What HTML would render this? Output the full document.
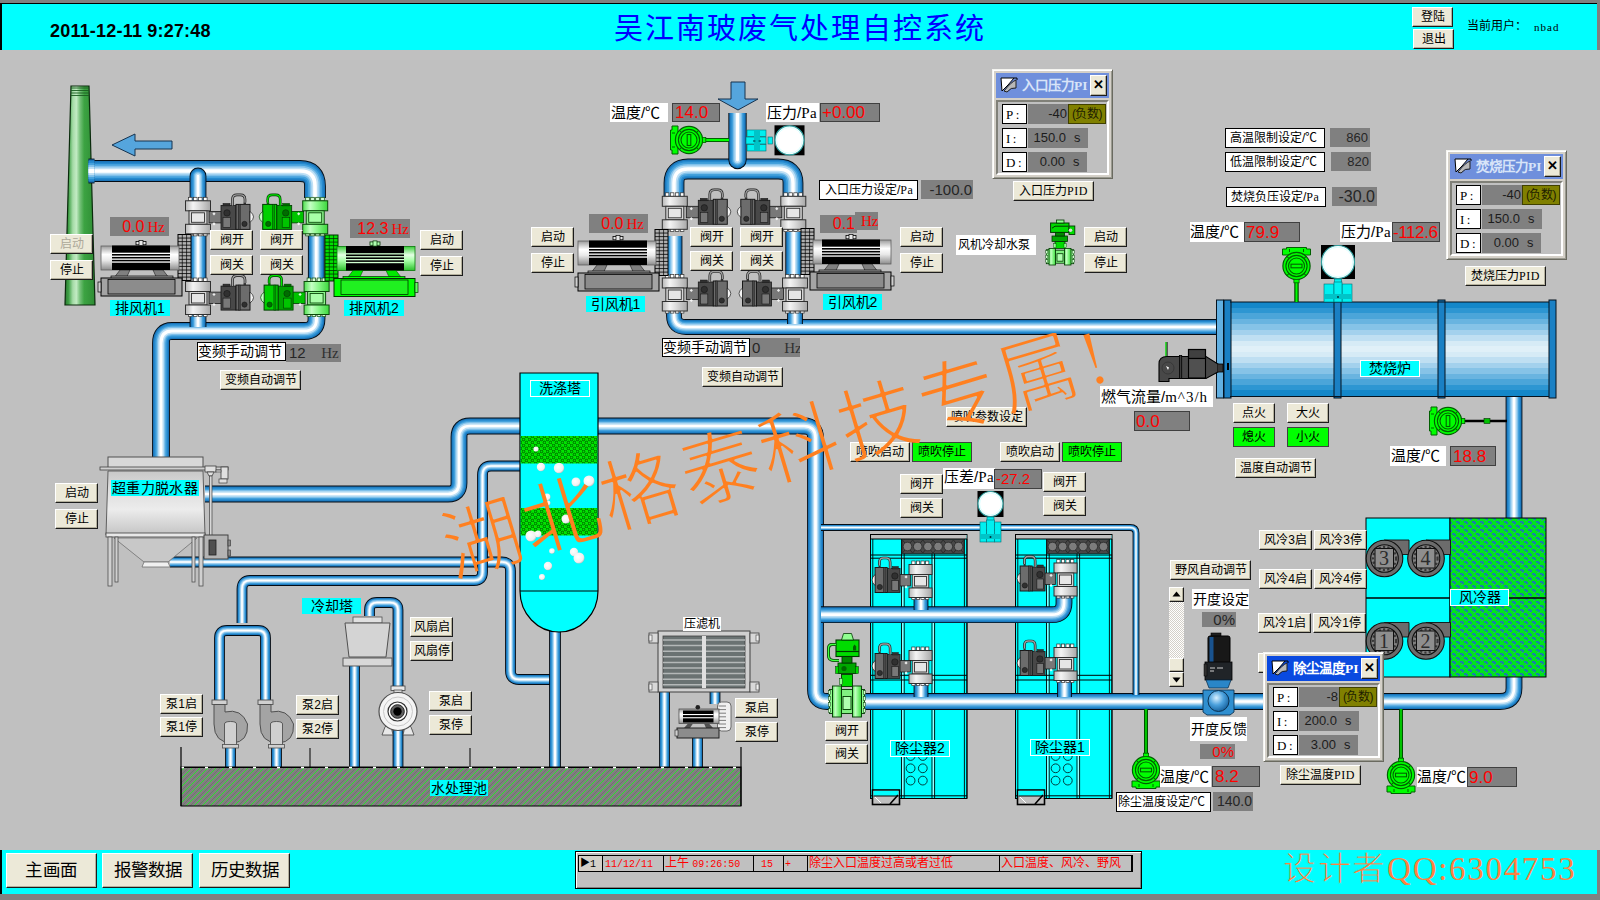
<!DOCTYPE html>
<html lang="zh-CN"><head><meta charset="utf-8"><title>SCADA</title>
<style>
html,body{margin:0;padding:0;}
body{width:1600px;height:900px;overflow:hidden;background:#c0c0c0;position:relative;font-family:"Liberation Sans", sans-serif;}
#g{position:absolute;left:0;top:0;}
.b{position:absolute;box-sizing:border-box;background:#ece9d8;border:1px solid;border-color:#fff #1c1c1c #1c1c1c #fff;box-shadow:inset -1px -1px 0 #b4b09c;text-align:center;color:#000;white-space:nowrap;overflow:hidden;}
.b.g{background:#00ff00;border-color:#404040 #404040 #404040 #404040;box-shadow:none;}
.b.dis{color:#aca899;}
.l{position:absolute;box-sizing:border-box;white-space:nowrap;overflow:hidden;color:#000;}
.w{background:#fff;}
.wb{background:#fff;border:1px solid #000;}
.c{background:#00ffff;text-align:center;}
.cb{background:#00ffff;border:1px solid #fff;text-align:center;}
.v{background:#808080;color:#262626;}
.vb{background:#808080;border:1px solid #404040;color:#f00;}
.r{color:#f00;}
.ra{text-align:right;}
.ca{text-align:center;}
.ol{background:#808000;border:1px solid #404000;color:#202000;text-align:center;}
.pid{position:absolute;box-sizing:border-box;background:#d4d0c8;border:1px solid;border-color:#f4f4f0 #6a6a60 #6a6a60 #f4f4f0;box-shadow:inset 1px 1px 0 #fff, inset -1px -1px 0 #9a9a90;}
.pid .tb{position:absolute;left:3px;top:3px;right:3px;height:25px;color:#fff;font-weight:bold;font-size:14px;line-height:25px;white-space:nowrap;overflow:hidden;font-family:"Liberation Serif", serif;}
.pid .in{position:absolute;left:3px;right:3px;top:30px;bottom:3px;box-sizing:border-box;border:2px solid;border-color:#808078 #fff #fff #808078;background:#c0c0c0;}
.mono{font-family:"Liberation Mono", monospace;}
.hz{font-family:"Liberation Serif", serif;font-size:15px;margin-left:3px;}
.sf{font-family:"Liberation Serif", serif;letter-spacing:0.5px;}
</style></head><body>
<svg id="g" width="1600" height="900" viewBox="0 0 1600 900">
<defs>

<linearGradient id="chim" x1="0" x2="1" y1="0" y2="0">
 <stop offset="0" stop-color="#2a7a30"/><stop offset="0.12" stop-color="#3fa046"/><stop offset="0.26" stop-color="#a4dba6"/><stop offset="0.38" stop-color="#c2ebc3"/><stop offset="0.5" stop-color="#74c078"/><stop offset="0.64" stop-color="#3ca342"/><stop offset="1" stop-color="#2e8c34"/>
</linearGradient>
<linearGradient id="furn" x1="0" x2="0" y1="0" y2="1"><stop offset="0.0000" stop-color="#1487c9"/><stop offset="0.0588" stop-color="#1487c9"/><stop offset="0.0588" stop-color="#2d96d2"/><stop offset="0.1176" stop-color="#2d96d2"/><stop offset="0.1176" stop-color="#4ba5d9"/><stop offset="0.1765" stop-color="#4ba5d9"/><stop offset="0.1765" stop-color="#69b4e0"/><stop offset="0.2353" stop-color="#69b4e0"/><stop offset="0.2353" stop-color="#86c3e7"/><stop offset="0.2941" stop-color="#86c3e7"/><stop offset="0.2941" stop-color="#a3d1ed"/><stop offset="0.3529" stop-color="#a3d1ed"/><stop offset="0.3529" stop-color="#bfdff2"/><stop offset="0.4118" stop-color="#bfdff2"/><stop offset="0.4118" stop-color="#d6ebf6"/><stop offset="0.4706" stop-color="#d6ebf6"/><stop offset="0.4706" stop-color="#e0f0f8"/><stop offset="0.5294" stop-color="#e0f0f8"/><stop offset="0.5294" stop-color="#d6ebf6"/><stop offset="0.5882" stop-color="#d6ebf6"/><stop offset="0.5882" stop-color="#bfdff2"/><stop offset="0.6471" stop-color="#bfdff2"/><stop offset="0.6471" stop-color="#a3d1ed"/><stop offset="0.7059" stop-color="#a3d1ed"/><stop offset="0.7059" stop-color="#86c3e7"/><stop offset="0.7647" stop-color="#86c3e7"/><stop offset="0.7647" stop-color="#69b4e0"/><stop offset="0.8235" stop-color="#69b4e0"/><stop offset="0.8235" stop-color="#4ba5d9"/><stop offset="0.8824" stop-color="#4ba5d9"/><stop offset="0.8824" stop-color="#2d96d2"/><stop offset="0.9412" stop-color="#2d96d2"/><stop offset="0.9412" stop-color="#1487c9"/><stop offset="1.0000" stop-color="#1487c9"/></linearGradient>
<linearGradient id="silv" x1="0" x2="0" y1="0" y2="1">
 <stop offset="0" stop-color="#9a9a9a"/><stop offset="0.35" stop-color="#ffffff"/><stop offset="0.6" stop-color="#e8e8e8"/><stop offset="1" stop-color="#8c8c8c"/>
</linearGradient>
<linearGradient id="silvg" x1="0" x2="0" y1="0" y2="1">
 <stop offset="0" stop-color="#38cc38"/><stop offset="0.35" stop-color="#e4ffe4"/><stop offset="0.6" stop-color="#a4ffa4"/><stop offset="1" stop-color="#2cc02c"/>
</linearGradient>
<linearGradient id="flg" x1="0" x2="1" y1="0" y2="0">
 <stop offset="0" stop-color="#b8b8b8"/><stop offset="0.3" stop-color="#f4f4f4"/><stop offset="0.55" stop-color="#dcdcdc"/><stop offset="1" stop-color="#a8a8a8"/>
</linearGradient>
<linearGradient id="flgg" x1="0" x2="1" y1="0" y2="0">
 <stop offset="0" stop-color="#4fe04f"/><stop offset="0.3" stop-color="#c4ffc4"/><stop offset="0.55" stop-color="#90f890"/><stop offset="1" stop-color="#3cd83c"/>
</linearGradient>
<linearGradient id="dew" x1="0" x2="0" y1="0" y2="1">
 <stop offset="0" stop-color="#c8c8c8"/><stop offset="0.3" stop-color="#dedede"/><stop offset="0.6" stop-color="#ececec"/><stop offset="1" stop-color="#c4c4c4"/>
</linearGradient>
<radialGradient id="bub" cx="0.4" cy="0.4" r="0.7"><stop offset="0" stop-color="#fff"/><stop offset="0.7" stop-color="#f0f0f0"/><stop offset="1" stop-color="#a0a8a8"/></radialGradient>
<radialGradient id="ball" cx="0.4" cy="0.35" r="0.7"><stop offset="0" stop-color="#d8f0ff"/><stop offset="0.5" stop-color="#4aa0dc"/><stop offset="1" stop-color="#125c98"/></radialGradient>
<pattern id="gmesh" width="6" height="6" patternUnits="userSpaceOnUse"><rect width="6" height="6" fill="#00e400"/><circle cx="1.5" cy="1.5" r="1.3" fill="none" stroke="#004000" stroke-width="0.75"/><circle cx="4.5" cy="4.5" r="1.3" fill="none" stroke="#004000" stroke-width="0.75"/></pattern>
<pattern id="dmesh" x="2" y="539.5" width="10.2" height="14" patternUnits="userSpaceOnUse"><rect width="10.2" height="14" fill="#4a4a4a"/><path d="M0,0L10.2,14M10.2,0L0,14" stroke="#2a2a2a" stroke-width="1"/><circle cx="5.1" cy="7" r="4.3" fill="#808080" stroke="#303030" stroke-width="0.8"/></pattern>
<pattern id="cool" width="8" height="8" patternUnits="userSpaceOnUse"><rect width="8" height="8" fill="#00e41c"/><path d="M0,1h3v1h1v2h-2v-1h-2z M4,5h3v1h1v2h-2v-1h-2z" fill="#1880a8"/><path d="M5,0h2v1h-2z M1,4h2v1h-2z" fill="#20b070"/></pattern>
<pattern id="pool" width="8" height="8" patternUnits="userSpaceOnUse"><rect width="8" height="8" fill="#808080"/><path d="M-1,9 L9,-1 M-1,1 L1,-1 M7,9 L9,7" stroke="#20f020" stroke-width="0.9"/><path d="M3,9 L9,3 M-1,5 L5,-1" stroke="#707070" stroke-width="1"/></pattern>
<clipPath id="cpin"><rect x="700" y="113" width="80" height="80"/></clipPath>
<pattern id="sb" width="2" height="2" patternUnits="userSpaceOnUse"><rect width="2" height="2" fill="#fff"/><rect width="1" height="1" fill="#d4d0c8"/><rect x="1" y="1" width="1" height="1" fill="#d4d0c8"/></pattern>

</defs>
<rect x="870.5" y="534.5" width="96.5" height="264" fill="#00ffff" stroke="#000" stroke-width="1" />
<rect x="871" y="535" width="95.5" height="4" fill="#c0c0c0" />
<line x1="870" x2="967" y1="539" y2="539" stroke="#000"/>
<line x1="870.5" x2="870.5" y1="539" y2="798" stroke="#000" stroke-width="0.9"/>
<line x1="872.8" x2="872.8" y1="539" y2="798" stroke="#000" stroke-width="0.9"/>
<line x1="901.5" x2="901.5" y1="539" y2="798" stroke="#000" stroke-width="0.9"/>
<line x1="904.2" x2="904.2" y1="539" y2="798" stroke="#000" stroke-width="0.9"/>
<line x1="932" x2="932" y1="539" y2="798" stroke="#000" stroke-width="0.9"/>
<line x1="934.6" x2="934.6" y1="539" y2="798" stroke="#000" stroke-width="0.9"/>
<line x1="964.4" x2="964.4" y1="539" y2="798" stroke="#000" stroke-width="0.9"/>
<line x1="966.9" x2="966.9" y1="539" y2="798" stroke="#000" stroke-width="0.9"/>
<line x1="902.8" x2="902.8" y1="558" y2="796" stroke="#d8ffff" stroke-width="0.9"/>
<line x1="933.3" x2="933.3" y1="558" y2="796" stroke="#d8ffff" stroke-width="0.9"/>
<line x1="870.5" x2="967" y1="555" y2="555" stroke="#000" stroke-width="1"/>
<line x1="870.5" x2="967" y1="558.2" y2="558.2" stroke="#000" stroke-width="1"/>
<line x1="870.5" x2="967" y1="675.3" y2="675.3" stroke="#000" stroke-width="1"/>
<line x1="870.5" x2="967" y1="680" y2="680" stroke="#000" stroke-width="1"/>
<line x1="870.5" x2="967" y1="795.8" y2="795.8" stroke="#000" stroke-width="1"/>
<line x1="870.5" x2="967" y1="798.5" y2="798.5" stroke="#000" stroke-width="1"/>
<rect x="902" y="539.5" width="62" height="14" fill="#484848" stroke="#202020" stroke-width="0.8" />
<path d="M902.5,540 L912.5,553 M912.5,540 L902.5,553" stroke="#282828" stroke-width="0.9"/>
<circle cx="907.5" cy="546.5" r="4.3" fill="#7c7c7c" stroke="#2a2a2a" stroke-width="0.8"/>
<path d="M912.7,540 L922.7,553 M922.7,540 L912.7,553" stroke="#282828" stroke-width="0.9"/>
<circle cx="917.7" cy="546.5" r="4.3" fill="#7c7c7c" stroke="#2a2a2a" stroke-width="0.8"/>
<path d="M922.9,540 L932.9,553 M932.9,540 L922.9,553" stroke="#282828" stroke-width="0.9"/>
<circle cx="927.9" cy="546.5" r="4.3" fill="#7c7c7c" stroke="#2a2a2a" stroke-width="0.8"/>
<path d="M933.1,540 L943.1,553 M943.1,540 L933.1,553" stroke="#282828" stroke-width="0.9"/>
<circle cx="938.1" cy="546.5" r="4.3" fill="#7c7c7c" stroke="#2a2a2a" stroke-width="0.8"/>
<path d="M943.3,540 L953.3,553 M953.3,540 L943.3,553" stroke="#282828" stroke-width="0.9"/>
<circle cx="948.3" cy="546.5" r="4.3" fill="#7c7c7c" stroke="#2a2a2a" stroke-width="0.8"/>
<path d="M953.5,540 L963.5,553 M963.5,540 L953.5,553" stroke="#282828" stroke-width="0.9"/>
<circle cx="958.5" cy="546.5" r="4.3" fill="#7c7c7c" stroke="#2a2a2a" stroke-width="0.8"/>
<rect x="872.5" y="790" width="27" height="14.5" fill="#c0c0c0" stroke="#000" stroke-width="1.6" />
<rect x="873.5" y="790.8" width="25" height="5" fill="#00ffff" />
<path d="M873.5,796 H898.5" stroke="#000" stroke-width="1"/>
<path d="M875,797 L881,803" stroke="#fff" stroke-width="1"/><path d="M898,795 L890,804" stroke="#000" stroke-width="1.6"/>
<circle cx="910.6" cy="756.0" r="4.4" fill="none" stroke="#002828" stroke-width="0.9"/>
<circle cx="922.8000000000001" cy="756.0" r="4.4" fill="none" stroke="#002828" stroke-width="0.9"/>
<circle cx="910.6" cy="768.3" r="4.4" fill="none" stroke="#002828" stroke-width="0.9"/>
<circle cx="922.8000000000001" cy="768.3" r="4.4" fill="none" stroke="#002828" stroke-width="0.9"/>
<circle cx="910.6" cy="780.6" r="4.4" fill="none" stroke="#002828" stroke-width="0.9"/>
<circle cx="922.8000000000001" cy="780.6" r="4.4" fill="none" stroke="#002828" stroke-width="0.9"/>
<rect x="1015.5" y="534.5" width="96.5" height="264" fill="#00ffff" stroke="#000" stroke-width="1" />
<rect x="1016" y="535" width="95.5" height="4" fill="#c0c0c0" />
<line x1="1015" x2="1112" y1="539" y2="539" stroke="#000"/>
<line x1="1015.5" x2="1015.5" y1="539" y2="798" stroke="#000" stroke-width="0.9"/>
<line x1="1017.8" x2="1017.8" y1="539" y2="798" stroke="#000" stroke-width="0.9"/>
<line x1="1046.5" x2="1046.5" y1="539" y2="798" stroke="#000" stroke-width="0.9"/>
<line x1="1049.2" x2="1049.2" y1="539" y2="798" stroke="#000" stroke-width="0.9"/>
<line x1="1077" x2="1077" y1="539" y2="798" stroke="#000" stroke-width="0.9"/>
<line x1="1079.6" x2="1079.6" y1="539" y2="798" stroke="#000" stroke-width="0.9"/>
<line x1="1109.4" x2="1109.4" y1="539" y2="798" stroke="#000" stroke-width="0.9"/>
<line x1="1111.9" x2="1111.9" y1="539" y2="798" stroke="#000" stroke-width="0.9"/>
<line x1="1047.8" x2="1047.8" y1="558" y2="796" stroke="#d8ffff" stroke-width="0.9"/>
<line x1="1078.3" x2="1078.3" y1="558" y2="796" stroke="#d8ffff" stroke-width="0.9"/>
<line x1="1015.5" x2="1112" y1="555" y2="555" stroke="#000" stroke-width="1"/>
<line x1="1015.5" x2="1112" y1="558.2" y2="558.2" stroke="#000" stroke-width="1"/>
<line x1="1015.5" x2="1112" y1="675.3" y2="675.3" stroke="#000" stroke-width="1"/>
<line x1="1015.5" x2="1112" y1="680" y2="680" stroke="#000" stroke-width="1"/>
<line x1="1015.5" x2="1112" y1="795.8" y2="795.8" stroke="#000" stroke-width="1"/>
<line x1="1015.5" x2="1112" y1="798.5" y2="798.5" stroke="#000" stroke-width="1"/>
<rect x="1047" y="539.5" width="62" height="14" fill="#484848" stroke="#202020" stroke-width="0.8" />
<path d="M1047.5,540 L1057.5,553 M1057.5,540 L1047.5,553" stroke="#282828" stroke-width="0.9"/>
<circle cx="1052.5" cy="546.5" r="4.3" fill="#7c7c7c" stroke="#2a2a2a" stroke-width="0.8"/>
<path d="M1057.7,540 L1067.7,553 M1067.7,540 L1057.7,553" stroke="#282828" stroke-width="0.9"/>
<circle cx="1062.7" cy="546.5" r="4.3" fill="#7c7c7c" stroke="#2a2a2a" stroke-width="0.8"/>
<path d="M1067.9,540 L1077.9,553 M1077.9,540 L1067.9,553" stroke="#282828" stroke-width="0.9"/>
<circle cx="1072.9" cy="546.5" r="4.3" fill="#7c7c7c" stroke="#2a2a2a" stroke-width="0.8"/>
<path d="M1078.1,540 L1088.1,553 M1088.1,540 L1078.1,553" stroke="#282828" stroke-width="0.9"/>
<circle cx="1083.1" cy="546.5" r="4.3" fill="#7c7c7c" stroke="#2a2a2a" stroke-width="0.8"/>
<path d="M1088.3,540 L1098.3,553 M1098.3,540 L1088.3,553" stroke="#282828" stroke-width="0.9"/>
<circle cx="1093.3" cy="546.5" r="4.3" fill="#7c7c7c" stroke="#2a2a2a" stroke-width="0.8"/>
<path d="M1098.5,540 L1108.5,553 M1108.5,540 L1098.5,553" stroke="#282828" stroke-width="0.9"/>
<circle cx="1103.5" cy="546.5" r="4.3" fill="#7c7c7c" stroke="#2a2a2a" stroke-width="0.8"/>
<rect x="1017.5" y="790" width="27" height="14.5" fill="#c0c0c0" stroke="#000" stroke-width="1.6" />
<rect x="1018.5" y="790.8" width="25" height="5" fill="#00ffff" />
<path d="M1018.5,796 H1043.5" stroke="#000" stroke-width="1"/>
<path d="M1020,797 L1026,803" stroke="#fff" stroke-width="1"/><path d="M1043,795 L1035,804" stroke="#000" stroke-width="1.6"/>
<circle cx="1055.6" cy="756.0" r="4.4" fill="none" stroke="#002828" stroke-width="0.9"/>
<circle cx="1067.8" cy="756.0" r="4.4" fill="none" stroke="#002828" stroke-width="0.9"/>
<circle cx="1055.6" cy="768.3" r="4.4" fill="none" stroke="#002828" stroke-width="0.9"/>
<circle cx="1067.8" cy="768.3" r="4.4" fill="none" stroke="#002828" stroke-width="0.9"/>
<circle cx="1055.6" cy="780.6" r="4.4" fill="none" stroke="#002828" stroke-width="0.9"/>
<circle cx="1067.8" cy="780.6" r="4.4" fill="none" stroke="#002828" stroke-width="0.9"/>
<path d="M90,171 H300 Q315,171 315,186 V198" fill="none" stroke="#040c14" stroke-width="21.8" stroke-linejoin="round" stroke-linecap="butt"/>
<path d="M90,171 H300 Q315,171 315,186 V198" fill="none" stroke="#1b74b8" stroke-width="20.0" stroke-linejoin="round" stroke-linecap="butt"/>
<path d="M90,171 H300 Q315,171 315,186 V198" fill="none" stroke="#268acf" stroke-width="17.2" stroke-linejoin="round" stroke-linecap="butt"/>
<path d="M90,171 H300 Q315,171 315,186 V198" fill="none" stroke="#44a1dc" stroke-width="14.0" stroke-linejoin="round" stroke-linecap="butt"/>
<path d="M90,171 H300 Q315,171 315,186 V198" fill="none" stroke="#7fc0ea" stroke-width="10.6" stroke-linejoin="round" stroke-linecap="butt"/>
<path d="M90,171 H300 Q315,171 315,186 V198" fill="none" stroke="#bfe0f5" stroke-width="7.2" stroke-linejoin="round" stroke-linecap="butt"/>
<path d="M90,171 H300 Q315,171 315,186 V198" fill="none" stroke="#ffffff" stroke-width="3.6" stroke-linejoin="round" stroke-linecap="butt"/>
<path d="M198,176 V198" fill="none" stroke="#040c14" stroke-width="16.8" stroke-linejoin="round" stroke-linecap="round"/>
<path d="M198,176 V198" fill="none" stroke="#1b74b8" stroke-width="15.0" stroke-linejoin="round" stroke-linecap="round"/>
<path d="M198,176 V198" fill="none" stroke="#268acf" stroke-width="12.9" stroke-linejoin="round" stroke-linecap="round"/>
<path d="M198,176 V198" fill="none" stroke="#44a1dc" stroke-width="10.5" stroke-linejoin="round" stroke-linecap="round"/>
<path d="M198,176 V198" fill="none" stroke="#7fc0ea" stroke-width="7.95" stroke-linejoin="round" stroke-linecap="round"/>
<path d="M198,176 V198" fill="none" stroke="#bfe0f5" stroke-width="5.4" stroke-linejoin="round" stroke-linecap="round"/>
<path d="M198,176 V198" fill="none" stroke="#ffffff" stroke-width="2.7" stroke-linejoin="round" stroke-linecap="round"/>
<path d="M198,236 V279" fill="none" stroke="#040c14" stroke-width="16.8" stroke-linejoin="round" stroke-linecap="butt"/>
<path d="M198,236 V279" fill="none" stroke="#1b74b8" stroke-width="15.0" stroke-linejoin="round" stroke-linecap="butt"/>
<path d="M198,236 V279" fill="none" stroke="#268acf" stroke-width="12.9" stroke-linejoin="round" stroke-linecap="butt"/>
<path d="M198,236 V279" fill="none" stroke="#44a1dc" stroke-width="10.5" stroke-linejoin="round" stroke-linecap="butt"/>
<path d="M198,236 V279" fill="none" stroke="#7fc0ea" stroke-width="7.95" stroke-linejoin="round" stroke-linecap="butt"/>
<path d="M198,236 V279" fill="none" stroke="#bfe0f5" stroke-width="5.4" stroke-linejoin="round" stroke-linecap="butt"/>
<path d="M198,236 V279" fill="none" stroke="#ffffff" stroke-width="2.7" stroke-linejoin="round" stroke-linecap="butt"/>
<path d="M316.3,236 V279" fill="none" stroke="#040c14" stroke-width="16.8" stroke-linejoin="round" stroke-linecap="butt"/>
<path d="M316.3,236 V279" fill="none" stroke="#1b74b8" stroke-width="15.0" stroke-linejoin="round" stroke-linecap="butt"/>
<path d="M316.3,236 V279" fill="none" stroke="#268acf" stroke-width="12.9" stroke-linejoin="round" stroke-linecap="butt"/>
<path d="M316.3,236 V279" fill="none" stroke="#44a1dc" stroke-width="10.5" stroke-linejoin="round" stroke-linecap="butt"/>
<path d="M316.3,236 V279" fill="none" stroke="#7fc0ea" stroke-width="7.95" stroke-linejoin="round" stroke-linecap="butt"/>
<path d="M316.3,236 V279" fill="none" stroke="#bfe0f5" stroke-width="5.4" stroke-linejoin="round" stroke-linecap="butt"/>
<path d="M316.3,236 V279" fill="none" stroke="#ffffff" stroke-width="2.7" stroke-linejoin="round" stroke-linecap="butt"/>
<path d="M316.5,316 V319 Q316.5,331 304,331 H172 Q161,331 161,343 V458" fill="none" stroke="#040c14" stroke-width="17.8" stroke-linejoin="round" stroke-linecap="butt"/>
<path d="M316.5,316 V319 Q316.5,331 304,331 H172 Q161,331 161,343 V458" fill="none" stroke="#1b74b8" stroke-width="16.0" stroke-linejoin="round" stroke-linecap="butt"/>
<path d="M316.5,316 V319 Q316.5,331 304,331 H172 Q161,331 161,343 V458" fill="none" stroke="#268acf" stroke-width="13.76" stroke-linejoin="round" stroke-linecap="butt"/>
<path d="M316.5,316 V319 Q316.5,331 304,331 H172 Q161,331 161,343 V458" fill="none" stroke="#44a1dc" stroke-width="11.2" stroke-linejoin="round" stroke-linecap="butt"/>
<path d="M316.5,316 V319 Q316.5,331 304,331 H172 Q161,331 161,343 V458" fill="none" stroke="#7fc0ea" stroke-width="8.48" stroke-linejoin="round" stroke-linecap="butt"/>
<path d="M316.5,316 V319 Q316.5,331 304,331 H172 Q161,331 161,343 V458" fill="none" stroke="#bfe0f5" stroke-width="5.76" stroke-linejoin="round" stroke-linecap="butt"/>
<path d="M316.5,316 V319 Q316.5,331 304,331 H172 Q161,331 161,343 V458" fill="none" stroke="#ffffff" stroke-width="2.88" stroke-linejoin="round" stroke-linecap="butt"/>
<path d="M198,315 V327" fill="none" stroke="#040c14" stroke-width="16.8" stroke-linejoin="round" stroke-linecap="butt"/>
<path d="M198,315 V327" fill="none" stroke="#1b74b8" stroke-width="15.0" stroke-linejoin="round" stroke-linecap="butt"/>
<path d="M198,315 V327" fill="none" stroke="#268acf" stroke-width="12.9" stroke-linejoin="round" stroke-linecap="butt"/>
<path d="M198,315 V327" fill="none" stroke="#44a1dc" stroke-width="10.5" stroke-linejoin="round" stroke-linecap="butt"/>
<path d="M198,315 V327" fill="none" stroke="#7fc0ea" stroke-width="7.95" stroke-linejoin="round" stroke-linecap="butt"/>
<path d="M198,315 V327" fill="none" stroke="#bfe0f5" stroke-width="5.4" stroke-linejoin="round" stroke-linecap="butt"/>
<path d="M198,315 V327" fill="none" stroke="#ffffff" stroke-width="2.7" stroke-linejoin="round" stroke-linecap="butt"/>
<path d="M674,198 V183 Q674,169 688,169 H778 Q793,169 793,183 V198" fill="none" stroke="#040c14" stroke-width="20.8" stroke-linejoin="round" stroke-linecap="butt"/>
<path d="M674,198 V183 Q674,169 688,169 H778 Q793,169 793,183 V198" fill="none" stroke="#1b74b8" stroke-width="19.0" stroke-linejoin="round" stroke-linecap="butt"/>
<path d="M674,198 V183 Q674,169 688,169 H778 Q793,169 793,183 V198" fill="none" stroke="#268acf" stroke-width="16.34" stroke-linejoin="round" stroke-linecap="butt"/>
<path d="M674,198 V183 Q674,169 688,169 H778 Q793,169 793,183 V198" fill="none" stroke="#44a1dc" stroke-width="13.3" stroke-linejoin="round" stroke-linecap="butt"/>
<path d="M674,198 V183 Q674,169 688,169 H778 Q793,169 793,183 V198" fill="none" stroke="#7fc0ea" stroke-width="10.07" stroke-linejoin="round" stroke-linecap="butt"/>
<path d="M674,198 V183 Q674,169 688,169 H778 Q793,169 793,183 V198" fill="none" stroke="#bfe0f5" stroke-width="6.84" stroke-linejoin="round" stroke-linecap="butt"/>
<path d="M674,198 V183 Q674,169 688,169 H778 Q793,169 793,183 V198" fill="none" stroke="#ffffff" stroke-width="3.42" stroke-linejoin="round" stroke-linecap="butt"/>
<g clip-path="url(#cpin)">
<path d="M737.5,113 V160" fill="none" stroke="#040c14" stroke-width="18.3" stroke-linejoin="round" stroke-linecap="round"/>
<path d="M737.5,113 V160" fill="none" stroke="#1b74b8" stroke-width="16.5" stroke-linejoin="round" stroke-linecap="round"/>
<path d="M737.5,113 V160" fill="none" stroke="#268acf" stroke-width="14.19" stroke-linejoin="round" stroke-linecap="round"/>
<path d="M737.5,113 V160" fill="none" stroke="#44a1dc" stroke-width="11.55" stroke-linejoin="round" stroke-linecap="round"/>
<path d="M737.5,113 V160" fill="none" stroke="#7fc0ea" stroke-width="8.75" stroke-linejoin="round" stroke-linecap="round"/>
<path d="M737.5,113 V160" fill="none" stroke="#bfe0f5" stroke-width="5.94" stroke-linejoin="round" stroke-linecap="round"/>
<path d="M737.5,113 V160" fill="none" stroke="#ffffff" stroke-width="2.97" stroke-linejoin="round" stroke-linecap="round"/>
</g>
<path d="M674,236 V276" fill="none" stroke="#040c14" stroke-width="16.8" stroke-linejoin="round" stroke-linecap="butt"/>
<path d="M674,236 V276" fill="none" stroke="#1b74b8" stroke-width="15.0" stroke-linejoin="round" stroke-linecap="butt"/>
<path d="M674,236 V276" fill="none" stroke="#268acf" stroke-width="12.9" stroke-linejoin="round" stroke-linecap="butt"/>
<path d="M674,236 V276" fill="none" stroke="#44a1dc" stroke-width="10.5" stroke-linejoin="round" stroke-linecap="butt"/>
<path d="M674,236 V276" fill="none" stroke="#7fc0ea" stroke-width="7.95" stroke-linejoin="round" stroke-linecap="butt"/>
<path d="M674,236 V276" fill="none" stroke="#bfe0f5" stroke-width="5.4" stroke-linejoin="round" stroke-linecap="butt"/>
<path d="M674,236 V276" fill="none" stroke="#ffffff" stroke-width="2.7" stroke-linejoin="round" stroke-linecap="butt"/>
<path d="M793.7,232 V276" fill="none" stroke="#040c14" stroke-width="16.8" stroke-linejoin="round" stroke-linecap="butt"/>
<path d="M793.7,232 V276" fill="none" stroke="#1b74b8" stroke-width="15.0" stroke-linejoin="round" stroke-linecap="butt"/>
<path d="M793.7,232 V276" fill="none" stroke="#268acf" stroke-width="12.9" stroke-linejoin="round" stroke-linecap="butt"/>
<path d="M793.7,232 V276" fill="none" stroke="#44a1dc" stroke-width="10.5" stroke-linejoin="round" stroke-linecap="butt"/>
<path d="M793.7,232 V276" fill="none" stroke="#7fc0ea" stroke-width="7.95" stroke-linejoin="round" stroke-linecap="butt"/>
<path d="M793.7,232 V276" fill="none" stroke="#bfe0f5" stroke-width="5.4" stroke-linejoin="round" stroke-linecap="butt"/>
<path d="M793.7,232 V276" fill="none" stroke="#ffffff" stroke-width="2.7" stroke-linejoin="round" stroke-linecap="butt"/>
<path d="M674,312 V316 Q674,327 686,327 H1218" fill="none" stroke="#040c14" stroke-width="15.8" stroke-linejoin="round" stroke-linecap="butt"/>
<path d="M674,312 V316 Q674,327 686,327 H1218" fill="none" stroke="#1b74b8" stroke-width="14.0" stroke-linejoin="round" stroke-linecap="butt"/>
<path d="M674,312 V316 Q674,327 686,327 H1218" fill="none" stroke="#268acf" stroke-width="12.04" stroke-linejoin="round" stroke-linecap="butt"/>
<path d="M674,312 V316 Q674,327 686,327 H1218" fill="none" stroke="#44a1dc" stroke-width="9.8" stroke-linejoin="round" stroke-linecap="butt"/>
<path d="M674,312 V316 Q674,327 686,327 H1218" fill="none" stroke="#7fc0ea" stroke-width="7.42" stroke-linejoin="round" stroke-linecap="butt"/>
<path d="M674,312 V316 Q674,327 686,327 H1218" fill="none" stroke="#bfe0f5" stroke-width="5.04" stroke-linejoin="round" stroke-linecap="butt"/>
<path d="M674,312 V316 Q674,327 686,327 H1218" fill="none" stroke="#ffffff" stroke-width="2.52" stroke-linejoin="round" stroke-linecap="butt"/>
<path d="M795,312 V324" fill="none" stroke="#040c14" stroke-width="15.8" stroke-linejoin="round" stroke-linecap="butt"/>
<path d="M795,312 V324" fill="none" stroke="#1b74b8" stroke-width="14.0" stroke-linejoin="round" stroke-linecap="butt"/>
<path d="M795,312 V324" fill="none" stroke="#268acf" stroke-width="12.04" stroke-linejoin="round" stroke-linecap="butt"/>
<path d="M795,312 V324" fill="none" stroke="#44a1dc" stroke-width="9.8" stroke-linejoin="round" stroke-linecap="butt"/>
<path d="M795,312 V324" fill="none" stroke="#7fc0ea" stroke-width="7.42" stroke-linejoin="round" stroke-linecap="butt"/>
<path d="M795,312 V324" fill="none" stroke="#bfe0f5" stroke-width="5.04" stroke-linejoin="round" stroke-linecap="butt"/>
<path d="M795,312 V324" fill="none" stroke="#ffffff" stroke-width="2.52" stroke-linejoin="round" stroke-linecap="butt"/>
<path d="M205,494 H448 Q459,494 459,483 V437 Q459,426 470,426 H520" fill="none" stroke="#040c14" stroke-width="16.8" stroke-linejoin="round" stroke-linecap="butt"/>
<path d="M205,494 H448 Q459,494 459,483 V437 Q459,426 470,426 H520" fill="none" stroke="#1b74b8" stroke-width="15.0" stroke-linejoin="round" stroke-linecap="butt"/>
<path d="M205,494 H448 Q459,494 459,483 V437 Q459,426 470,426 H520" fill="none" stroke="#268acf" stroke-width="12.9" stroke-linejoin="round" stroke-linecap="butt"/>
<path d="M205,494 H448 Q459,494 459,483 V437 Q459,426 470,426 H520" fill="none" stroke="#44a1dc" stroke-width="10.5" stroke-linejoin="round" stroke-linecap="butt"/>
<path d="M205,494 H448 Q459,494 459,483 V437 Q459,426 470,426 H520" fill="none" stroke="#7fc0ea" stroke-width="7.95" stroke-linejoin="round" stroke-linecap="butt"/>
<path d="M205,494 H448 Q459,494 459,483 V437 Q459,426 470,426 H520" fill="none" stroke="#bfe0f5" stroke-width="5.4" stroke-linejoin="round" stroke-linecap="butt"/>
<path d="M205,494 H448 Q459,494 459,483 V437 Q459,426 470,426 H520" fill="none" stroke="#ffffff" stroke-width="2.7" stroke-linejoin="round" stroke-linecap="butt"/>
<path d="M598,426 H804 Q815.5,426 815.5,438 V690 Q815.5,701.5 827,701.5 H1500 Q1514,701.5 1514,688 V677" fill="none" stroke="#040c14" stroke-width="16.8" stroke-linejoin="round" stroke-linecap="butt"/>
<path d="M598,426 H804 Q815.5,426 815.5,438 V690 Q815.5,701.5 827,701.5 H1500 Q1514,701.5 1514,688 V677" fill="none" stroke="#1b74b8" stroke-width="15.0" stroke-linejoin="round" stroke-linecap="butt"/>
<path d="M598,426 H804 Q815.5,426 815.5,438 V690 Q815.5,701.5 827,701.5 H1500 Q1514,701.5 1514,688 V677" fill="none" stroke="#268acf" stroke-width="12.9" stroke-linejoin="round" stroke-linecap="butt"/>
<path d="M598,426 H804 Q815.5,426 815.5,438 V690 Q815.5,701.5 827,701.5 H1500 Q1514,701.5 1514,688 V677" fill="none" stroke="#44a1dc" stroke-width="10.5" stroke-linejoin="round" stroke-linecap="butt"/>
<path d="M598,426 H804 Q815.5,426 815.5,438 V690 Q815.5,701.5 827,701.5 H1500 Q1514,701.5 1514,688 V677" fill="none" stroke="#7fc0ea" stroke-width="7.95" stroke-linejoin="round" stroke-linecap="butt"/>
<path d="M598,426 H804 Q815.5,426 815.5,438 V690 Q815.5,701.5 827,701.5 H1500 Q1514,701.5 1514,688 V677" fill="none" stroke="#bfe0f5" stroke-width="5.4" stroke-linejoin="round" stroke-linecap="butt"/>
<path d="M598,426 H804 Q815.5,426 815.5,438 V690 Q815.5,701.5 827,701.5 H1500 Q1514,701.5 1514,688 V677" fill="none" stroke="#ffffff" stroke-width="2.7" stroke-linejoin="round" stroke-linecap="butt"/>
<path d="M170,562 H502 Q510.5,562 510.5,571 V671 Q510.5,679.5 519,679.5 H552" fill="none" stroke="#040c14" stroke-width="10.8" stroke-linejoin="round" stroke-linecap="butt"/>
<path d="M170,562 H502 Q510.5,562 510.5,571 V671 Q510.5,679.5 519,679.5 H552" fill="none" stroke="#1b74b8" stroke-width="9.0" stroke-linejoin="round" stroke-linecap="butt"/>
<path d="M170,562 H502 Q510.5,562 510.5,571 V671 Q510.5,679.5 519,679.5 H552" fill="none" stroke="#268acf" stroke-width="7.74" stroke-linejoin="round" stroke-linecap="butt"/>
<path d="M170,562 H502 Q510.5,562 510.5,571 V671 Q510.5,679.5 519,679.5 H552" fill="none" stroke="#44a1dc" stroke-width="6.3" stroke-linejoin="round" stroke-linecap="butt"/>
<path d="M170,562 H502 Q510.5,562 510.5,571 V671 Q510.5,679.5 519,679.5 H552" fill="none" stroke="#7fc0ea" stroke-width="4.77" stroke-linejoin="round" stroke-linecap="butt"/>
<path d="M170,562 H502 Q510.5,562 510.5,571 V671 Q510.5,679.5 519,679.5 H552" fill="none" stroke="#bfe0f5" stroke-width="3.24" stroke-linejoin="round" stroke-linecap="butt"/>
<path d="M170,562 H502 Q510.5,562 510.5,571 V671 Q510.5,679.5 519,679.5 H552" fill="none" stroke="#ffffff" stroke-width="1.62" stroke-linejoin="round" stroke-linecap="butt"/>
<path d="M520,466 H491 Q482.5,466 482.5,475 V572 Q482.5,580.5 474,580.5 H250 Q242,580.5 242,589 V623" fill="none" stroke="#040c14" stroke-width="10.8" stroke-linejoin="round" stroke-linecap="butt"/>
<path d="M520,466 H491 Q482.5,466 482.5,475 V572 Q482.5,580.5 474,580.5 H250 Q242,580.5 242,589 V623" fill="none" stroke="#1b74b8" stroke-width="9.0" stroke-linejoin="round" stroke-linecap="butt"/>
<path d="M520,466 H491 Q482.5,466 482.5,475 V572 Q482.5,580.5 474,580.5 H250 Q242,580.5 242,589 V623" fill="none" stroke="#268acf" stroke-width="7.74" stroke-linejoin="round" stroke-linecap="butt"/>
<path d="M520,466 H491 Q482.5,466 482.5,475 V572 Q482.5,580.5 474,580.5 H250 Q242,580.5 242,589 V623" fill="none" stroke="#44a1dc" stroke-width="6.3" stroke-linejoin="round" stroke-linecap="butt"/>
<path d="M520,466 H491 Q482.5,466 482.5,475 V572 Q482.5,580.5 474,580.5 H250 Q242,580.5 242,589 V623" fill="none" stroke="#7fc0ea" stroke-width="4.77" stroke-linejoin="round" stroke-linecap="butt"/>
<path d="M520,466 H491 Q482.5,466 482.5,475 V572 Q482.5,580.5 474,580.5 H250 Q242,580.5 242,589 V623" fill="none" stroke="#bfe0f5" stroke-width="3.24" stroke-linejoin="round" stroke-linecap="butt"/>
<path d="M520,466 H491 Q482.5,466 482.5,475 V572 Q482.5,580.5 474,580.5 H250 Q242,580.5 242,589 V623" fill="none" stroke="#ffffff" stroke-width="1.62" stroke-linejoin="round" stroke-linecap="butt"/>
<path d="M219.5,702 V638 Q219.5,630.5 227,630.5 H258 Q265.5,630.5 265.5,638 V702" fill="none" stroke="#040c14" stroke-width="10.8" stroke-linejoin="round" stroke-linecap="butt"/>
<path d="M219.5,702 V638 Q219.5,630.5 227,630.5 H258 Q265.5,630.5 265.5,638 V702" fill="none" stroke="#1b74b8" stroke-width="9.0" stroke-linejoin="round" stroke-linecap="butt"/>
<path d="M219.5,702 V638 Q219.5,630.5 227,630.5 H258 Q265.5,630.5 265.5,638 V702" fill="none" stroke="#268acf" stroke-width="7.74" stroke-linejoin="round" stroke-linecap="butt"/>
<path d="M219.5,702 V638 Q219.5,630.5 227,630.5 H258 Q265.5,630.5 265.5,638 V702" fill="none" stroke="#44a1dc" stroke-width="6.3" stroke-linejoin="round" stroke-linecap="butt"/>
<path d="M219.5,702 V638 Q219.5,630.5 227,630.5 H258 Q265.5,630.5 265.5,638 V702" fill="none" stroke="#7fc0ea" stroke-width="4.77" stroke-linejoin="round" stroke-linecap="butt"/>
<path d="M219.5,702 V638 Q219.5,630.5 227,630.5 H258 Q265.5,630.5 265.5,638 V702" fill="none" stroke="#bfe0f5" stroke-width="3.24" stroke-linejoin="round" stroke-linecap="butt"/>
<path d="M219.5,702 V638 Q219.5,630.5 227,630.5 H258 Q265.5,630.5 265.5,638 V702" fill="none" stroke="#ffffff" stroke-width="1.62" stroke-linejoin="round" stroke-linecap="butt"/>
<path d="M555,630 V767" fill="none" stroke="#040c14" stroke-width="11.8" stroke-linejoin="round" stroke-linecap="butt"/>
<path d="M555,630 V767" fill="none" stroke="#1b74b8" stroke-width="10.0" stroke-linejoin="round" stroke-linecap="butt"/>
<path d="M555,630 V767" fill="none" stroke="#268acf" stroke-width="8.6" stroke-linejoin="round" stroke-linecap="butt"/>
<path d="M555,630 V767" fill="none" stroke="#44a1dc" stroke-width="7.0" stroke-linejoin="round" stroke-linecap="butt"/>
<path d="M555,630 V767" fill="none" stroke="#7fc0ea" stroke-width="5.3" stroke-linejoin="round" stroke-linecap="butt"/>
<path d="M555,630 V767" fill="none" stroke="#bfe0f5" stroke-width="3.6" stroke-linejoin="round" stroke-linecap="butt"/>
<path d="M555,630 V767" fill="none" stroke="#ffffff" stroke-width="1.8" stroke-linejoin="round" stroke-linecap="butt"/>
<path d="M230.5,748 V767" fill="none" stroke="#040c14" stroke-width="10.8" stroke-linejoin="round" stroke-linecap="butt"/>
<path d="M230.5,748 V767" fill="none" stroke="#1b74b8" stroke-width="9.0" stroke-linejoin="round" stroke-linecap="butt"/>
<path d="M230.5,748 V767" fill="none" stroke="#268acf" stroke-width="7.74" stroke-linejoin="round" stroke-linecap="butt"/>
<path d="M230.5,748 V767" fill="none" stroke="#44a1dc" stroke-width="6.3" stroke-linejoin="round" stroke-linecap="butt"/>
<path d="M230.5,748 V767" fill="none" stroke="#7fc0ea" stroke-width="4.77" stroke-linejoin="round" stroke-linecap="butt"/>
<path d="M230.5,748 V767" fill="none" stroke="#bfe0f5" stroke-width="3.24" stroke-linejoin="round" stroke-linecap="butt"/>
<path d="M230.5,748 V767" fill="none" stroke="#ffffff" stroke-width="1.62" stroke-linejoin="round" stroke-linecap="butt"/>
<path d="M276.5,748 V767" fill="none" stroke="#040c14" stroke-width="10.8" stroke-linejoin="round" stroke-linecap="butt"/>
<path d="M276.5,748 V767" fill="none" stroke="#1b74b8" stroke-width="9.0" stroke-linejoin="round" stroke-linecap="butt"/>
<path d="M276.5,748 V767" fill="none" stroke="#268acf" stroke-width="7.74" stroke-linejoin="round" stroke-linecap="butt"/>
<path d="M276.5,748 V767" fill="none" stroke="#44a1dc" stroke-width="6.3" stroke-linejoin="round" stroke-linecap="butt"/>
<path d="M276.5,748 V767" fill="none" stroke="#7fc0ea" stroke-width="4.77" stroke-linejoin="round" stroke-linecap="butt"/>
<path d="M276.5,748 V767" fill="none" stroke="#bfe0f5" stroke-width="3.24" stroke-linejoin="round" stroke-linecap="butt"/>
<path d="M276.5,748 V767" fill="none" stroke="#ffffff" stroke-width="1.62" stroke-linejoin="round" stroke-linecap="butt"/>
<path d="M354.5,666 V767" fill="none" stroke="#040c14" stroke-width="10.8" stroke-linejoin="round" stroke-linecap="butt"/>
<path d="M354.5,666 V767" fill="none" stroke="#1b74b8" stroke-width="9.0" stroke-linejoin="round" stroke-linecap="butt"/>
<path d="M354.5,666 V767" fill="none" stroke="#268acf" stroke-width="7.74" stroke-linejoin="round" stroke-linecap="butt"/>
<path d="M354.5,666 V767" fill="none" stroke="#44a1dc" stroke-width="6.3" stroke-linejoin="round" stroke-linecap="butt"/>
<path d="M354.5,666 V767" fill="none" stroke="#7fc0ea" stroke-width="4.77" stroke-linejoin="round" stroke-linecap="butt"/>
<path d="M354.5,666 V767" fill="none" stroke="#bfe0f5" stroke-width="3.24" stroke-linejoin="round" stroke-linecap="butt"/>
<path d="M354.5,666 V767" fill="none" stroke="#ffffff" stroke-width="1.62" stroke-linejoin="round" stroke-linecap="butt"/>
<path d="M369.5,616 V610 Q369.5,602.5 377,602.5 H390 Q398,602.5 398,610 V687" fill="none" stroke="#040c14" stroke-width="10.8" stroke-linejoin="round" stroke-linecap="butt"/>
<path d="M369.5,616 V610 Q369.5,602.5 377,602.5 H390 Q398,602.5 398,610 V687" fill="none" stroke="#1b74b8" stroke-width="9.0" stroke-linejoin="round" stroke-linecap="butt"/>
<path d="M369.5,616 V610 Q369.5,602.5 377,602.5 H390 Q398,602.5 398,610 V687" fill="none" stroke="#268acf" stroke-width="7.74" stroke-linejoin="round" stroke-linecap="butt"/>
<path d="M369.5,616 V610 Q369.5,602.5 377,602.5 H390 Q398,602.5 398,610 V687" fill="none" stroke="#44a1dc" stroke-width="6.3" stroke-linejoin="round" stroke-linecap="butt"/>
<path d="M369.5,616 V610 Q369.5,602.5 377,602.5 H390 Q398,602.5 398,610 V687" fill="none" stroke="#7fc0ea" stroke-width="4.77" stroke-linejoin="round" stroke-linecap="butt"/>
<path d="M369.5,616 V610 Q369.5,602.5 377,602.5 H390 Q398,602.5 398,610 V687" fill="none" stroke="#bfe0f5" stroke-width="3.24" stroke-linejoin="round" stroke-linecap="butt"/>
<path d="M369.5,616 V610 Q369.5,602.5 377,602.5 H390 Q398,602.5 398,610 V687" fill="none" stroke="#ffffff" stroke-width="1.62" stroke-linejoin="round" stroke-linecap="butt"/>
<path d="M398,730 V767" fill="none" stroke="#040c14" stroke-width="10.8" stroke-linejoin="round" stroke-linecap="butt"/>
<path d="M398,730 V767" fill="none" stroke="#1b74b8" stroke-width="9.0" stroke-linejoin="round" stroke-linecap="butt"/>
<path d="M398,730 V767" fill="none" stroke="#268acf" stroke-width="7.74" stroke-linejoin="round" stroke-linecap="butt"/>
<path d="M398,730 V767" fill="none" stroke="#44a1dc" stroke-width="6.3" stroke-linejoin="round" stroke-linecap="butt"/>
<path d="M398,730 V767" fill="none" stroke="#7fc0ea" stroke-width="4.77" stroke-linejoin="round" stroke-linecap="butt"/>
<path d="M398,730 V767" fill="none" stroke="#bfe0f5" stroke-width="3.24" stroke-linejoin="round" stroke-linecap="butt"/>
<path d="M398,730 V767" fill="none" stroke="#ffffff" stroke-width="1.62" stroke-linejoin="round" stroke-linecap="butt"/>
<path d="M664.5,692 V767" fill="none" stroke="#040c14" stroke-width="10.8" stroke-linejoin="round" stroke-linecap="butt"/>
<path d="M664.5,692 V767" fill="none" stroke="#1b74b8" stroke-width="9.0" stroke-linejoin="round" stroke-linecap="butt"/>
<path d="M664.5,692 V767" fill="none" stroke="#268acf" stroke-width="7.74" stroke-linejoin="round" stroke-linecap="butt"/>
<path d="M664.5,692 V767" fill="none" stroke="#44a1dc" stroke-width="6.3" stroke-linejoin="round" stroke-linecap="butt"/>
<path d="M664.5,692 V767" fill="none" stroke="#7fc0ea" stroke-width="4.77" stroke-linejoin="round" stroke-linecap="butt"/>
<path d="M664.5,692 V767" fill="none" stroke="#bfe0f5" stroke-width="3.24" stroke-linejoin="round" stroke-linecap="butt"/>
<path d="M664.5,692 V767" fill="none" stroke="#ffffff" stroke-width="1.62" stroke-linejoin="round" stroke-linecap="butt"/>
<path d="M715,688 V704" fill="none" stroke="#040c14" stroke-width="10.8" stroke-linejoin="round" stroke-linecap="butt"/>
<path d="M715,688 V704" fill="none" stroke="#1b74b8" stroke-width="9.0" stroke-linejoin="round" stroke-linecap="butt"/>
<path d="M715,688 V704" fill="none" stroke="#268acf" stroke-width="7.74" stroke-linejoin="round" stroke-linecap="butt"/>
<path d="M715,688 V704" fill="none" stroke="#44a1dc" stroke-width="6.3" stroke-linejoin="round" stroke-linecap="butt"/>
<path d="M715,688 V704" fill="none" stroke="#7fc0ea" stroke-width="4.77" stroke-linejoin="round" stroke-linecap="butt"/>
<path d="M715,688 V704" fill="none" stroke="#bfe0f5" stroke-width="3.24" stroke-linejoin="round" stroke-linecap="butt"/>
<path d="M715,688 V704" fill="none" stroke="#ffffff" stroke-width="1.62" stroke-linejoin="round" stroke-linecap="butt"/>
<path d="M697.5,738 V767" fill="none" stroke="#040c14" stroke-width="10.8" stroke-linejoin="round" stroke-linecap="butt"/>
<path d="M697.5,738 V767" fill="none" stroke="#1b74b8" stroke-width="9.0" stroke-linejoin="round" stroke-linecap="butt"/>
<path d="M697.5,738 V767" fill="none" stroke="#268acf" stroke-width="7.74" stroke-linejoin="round" stroke-linecap="butt"/>
<path d="M697.5,738 V767" fill="none" stroke="#44a1dc" stroke-width="6.3" stroke-linejoin="round" stroke-linecap="butt"/>
<path d="M697.5,738 V767" fill="none" stroke="#7fc0ea" stroke-width="4.77" stroke-linejoin="round" stroke-linecap="butt"/>
<path d="M697.5,738 V767" fill="none" stroke="#bfe0f5" stroke-width="3.24" stroke-linejoin="round" stroke-linecap="butt"/>
<path d="M697.5,738 V767" fill="none" stroke="#ffffff" stroke-width="1.62" stroke-linejoin="round" stroke-linecap="butt"/>
<path d="M821,527.5 H1130 Q1136,527.5 1136,533 V695" fill="none" stroke="#040c14" stroke-width="6.8" stroke-linejoin="round" stroke-linecap="butt"/>
<path d="M821,527.5 H1130 Q1136,527.5 1136,533 V695" fill="none" stroke="#1b74b8" stroke-width="5.0" stroke-linejoin="round" stroke-linecap="butt"/>
<path d="M821,527.5 H1130 Q1136,527.5 1136,533 V695" fill="none" stroke="#268acf" stroke-width="4.3" stroke-linejoin="round" stroke-linecap="butt"/>
<path d="M821,527.5 H1130 Q1136,527.5 1136,533 V695" fill="none" stroke="#44a1dc" stroke-width="3.5" stroke-linejoin="round" stroke-linecap="butt"/>
<path d="M821,527.5 H1130 Q1136,527.5 1136,533 V695" fill="none" stroke="#7fc0ea" stroke-width="2.65" stroke-linejoin="round" stroke-linecap="butt"/>
<path d="M821,527.5 H1130 Q1136,527.5 1136,533 V695" fill="none" stroke="#bfe0f5" stroke-width="1.8" stroke-linejoin="round" stroke-linecap="butt"/>
<path d="M821,527.5 H1130 Q1136,527.5 1136,533 V695" fill="none" stroke="#ffffff" stroke-width="0.9" stroke-linejoin="round" stroke-linecap="butt"/>
<path d="M1514,396 V518" fill="none" stroke="#040c14" stroke-width="16.8" stroke-linejoin="round" stroke-linecap="butt"/>
<path d="M1514,396 V518" fill="none" stroke="#1b74b8" stroke-width="15.0" stroke-linejoin="round" stroke-linecap="butt"/>
<path d="M1514,396 V518" fill="none" stroke="#268acf" stroke-width="12.9" stroke-linejoin="round" stroke-linecap="butt"/>
<path d="M1514,396 V518" fill="none" stroke="#44a1dc" stroke-width="10.5" stroke-linejoin="round" stroke-linecap="butt"/>
<path d="M1514,396 V518" fill="none" stroke="#7fc0ea" stroke-width="7.95" stroke-linejoin="round" stroke-linecap="butt"/>
<path d="M1514,396 V518" fill="none" stroke="#bfe0f5" stroke-width="5.4" stroke-linejoin="round" stroke-linecap="butt"/>
<path d="M1514,396 V518" fill="none" stroke="#ffffff" stroke-width="2.7" stroke-linejoin="round" stroke-linecap="butt"/>
<path d="M821,614.7 H1052 Q1064,614.7 1064,603 V596" fill="none" stroke="#040c14" stroke-width="16.8" stroke-linejoin="round" stroke-linecap="butt"/>
<path d="M821,614.7 H1052 Q1064,614.7 1064,603 V596" fill="none" stroke="#1b74b8" stroke-width="15.0" stroke-linejoin="round" stroke-linecap="butt"/>
<path d="M821,614.7 H1052 Q1064,614.7 1064,603 V596" fill="none" stroke="#268acf" stroke-width="12.9" stroke-linejoin="round" stroke-linecap="butt"/>
<path d="M821,614.7 H1052 Q1064,614.7 1064,603 V596" fill="none" stroke="#44a1dc" stroke-width="10.5" stroke-linejoin="round" stroke-linecap="butt"/>
<path d="M821,614.7 H1052 Q1064,614.7 1064,603 V596" fill="none" stroke="#7fc0ea" stroke-width="7.95" stroke-linejoin="round" stroke-linecap="butt"/>
<path d="M821,614.7 H1052 Q1064,614.7 1064,603 V596" fill="none" stroke="#bfe0f5" stroke-width="5.4" stroke-linejoin="round" stroke-linecap="butt"/>
<path d="M821,614.7 H1052 Q1064,614.7 1064,603 V596" fill="none" stroke="#ffffff" stroke-width="2.7" stroke-linejoin="round" stroke-linecap="butt"/>
<path d="M921,598 V610" fill="none" stroke="#040c14" stroke-width="14.8" stroke-linejoin="round" stroke-linecap="butt"/>
<path d="M921,598 V610" fill="none" stroke="#1b74b8" stroke-width="13.0" stroke-linejoin="round" stroke-linecap="butt"/>
<path d="M921,598 V610" fill="none" stroke="#268acf" stroke-width="11.18" stroke-linejoin="round" stroke-linecap="butt"/>
<path d="M921,598 V610" fill="none" stroke="#44a1dc" stroke-width="9.1" stroke-linejoin="round" stroke-linecap="butt"/>
<path d="M921,598 V610" fill="none" stroke="#7fc0ea" stroke-width="6.89" stroke-linejoin="round" stroke-linecap="butt"/>
<path d="M921,598 V610" fill="none" stroke="#bfe0f5" stroke-width="4.68" stroke-linejoin="round" stroke-linecap="butt"/>
<path d="M921,598 V610" fill="none" stroke="#ffffff" stroke-width="2.34" stroke-linejoin="round" stroke-linecap="butt"/>
<path d="M921,684 V697" fill="none" stroke="#040c14" stroke-width="14.8" stroke-linejoin="round" stroke-linecap="butt"/>
<path d="M921,684 V697" fill="none" stroke="#1b74b8" stroke-width="13.0" stroke-linejoin="round" stroke-linecap="butt"/>
<path d="M921,684 V697" fill="none" stroke="#268acf" stroke-width="11.18" stroke-linejoin="round" stroke-linecap="butt"/>
<path d="M921,684 V697" fill="none" stroke="#44a1dc" stroke-width="9.1" stroke-linejoin="round" stroke-linecap="butt"/>
<path d="M921,684 V697" fill="none" stroke="#7fc0ea" stroke-width="6.89" stroke-linejoin="round" stroke-linecap="butt"/>
<path d="M921,684 V697" fill="none" stroke="#bfe0f5" stroke-width="4.68" stroke-linejoin="round" stroke-linecap="butt"/>
<path d="M921,684 V697" fill="none" stroke="#ffffff" stroke-width="2.34" stroke-linejoin="round" stroke-linecap="butt"/>
<path d="M1064.5,681 V697" fill="none" stroke="#040c14" stroke-width="14.8" stroke-linejoin="round" stroke-linecap="butt"/>
<path d="M1064.5,681 V697" fill="none" stroke="#1b74b8" stroke-width="13.0" stroke-linejoin="round" stroke-linecap="butt"/>
<path d="M1064.5,681 V697" fill="none" stroke="#268acf" stroke-width="11.18" stroke-linejoin="round" stroke-linecap="butt"/>
<path d="M1064.5,681 V697" fill="none" stroke="#44a1dc" stroke-width="9.1" stroke-linejoin="round" stroke-linecap="butt"/>
<path d="M1064.5,681 V697" fill="none" stroke="#7fc0ea" stroke-width="6.89" stroke-linejoin="round" stroke-linecap="butt"/>
<path d="M1064.5,681 V697" fill="none" stroke="#bfe0f5" stroke-width="4.68" stroke-linejoin="round" stroke-linecap="butt"/>
<path d="M1064.5,681 V697" fill="none" stroke="#ffffff" stroke-width="2.34" stroke-linejoin="round" stroke-linecap="butt"/>
<rect x="0" y="0" width="1600" height="3" fill="#808080" />
<rect x="0" y="3" width="1600" height="47" fill="#00ffff" />
<rect x="0" y="3" width="1600" height="1" fill="#000" />
<rect x="0" y="3" width="2" height="47" fill="#000" />
<rect x="1597" y="3" width="3" height="47" fill="#808080" />
<rect x="0" y="850" width="1600" height="44" fill="#00ffff" />
<rect x="0" y="894" width="1600" height="6" fill="#808080" />
<rect x="0" y="850" width="2" height="44" fill="#000" />
<rect x="1597" y="850" width="3" height="44" fill="#808080" />
<polygon points="71,86 89,86 95,305 65,305" fill="url(#chim)" stroke="#0a2a0c" stroke-width="1.2"/>
<line x1="71" x2="89" y1="88" y2="88" stroke="#1b5c20" stroke-width="0.9"/>
<line x1="71" x2="89" y1="90.5" y2="90.5" stroke="#1b5c20" stroke-width="0.9"/>
<line x1="71" x2="89" y1="93" y2="93" stroke="#1b5c20" stroke-width="0.9"/>
<line x1="71" x2="89" y1="95.5" y2="95.5" stroke="#1b5c20" stroke-width="0.9"/>
<path d="M88.5,171 H94.5" fill="none" stroke="#040c14" stroke-width="24.8" stroke-linejoin="round" stroke-linecap="butt"/>
<path d="M88.5,171 H94.5" fill="none" stroke="#1b74b8" stroke-width="23.0" stroke-linejoin="round" stroke-linecap="butt"/>
<path d="M88.5,171 H94.5" fill="none" stroke="#268acf" stroke-width="19.78" stroke-linejoin="round" stroke-linecap="butt"/>
<path d="M88.5,171 H94.5" fill="none" stroke="#44a1dc" stroke-width="16.1" stroke-linejoin="round" stroke-linecap="butt"/>
<path d="M88.5,171 H94.5" fill="none" stroke="#7fc0ea" stroke-width="12.19" stroke-linejoin="round" stroke-linecap="butt"/>
<path d="M88.5,171 H94.5" fill="none" stroke="#bfe0f5" stroke-width="8.28" stroke-linejoin="round" stroke-linecap="butt"/>
<path d="M88.5,171 H94.5" fill="none" stroke="#ffffff" stroke-width="4.14" stroke-linejoin="round" stroke-linecap="butt"/>
<polygon points="112,145 135,134 135,141 172,141 172,149 135,149 135,156" fill="#55a5dd" stroke="#16324e" stroke-width="1"/>
<polygon points="731,82 745,82 745,99 758,99 738,110 718,99 731,99" fill="#55a5dd" stroke="#16324e" stroke-width="1"/>
<rect x="1230" y="302" width="320" height="94" fill="url(#furn)" />
<rect x="1216.5" y="300" width="7" height="98" fill="#62b0e2" stroke="#04121e" stroke-width="1" />
<rect x="1224" y="300" width="7" height="98" fill="#1a80c4" stroke="#04121e" stroke-width="1" />
<rect x="1334" y="300" width="7" height="98" fill="#1a80c4" stroke="#04121e" stroke-width="1" />
<rect x="1438" y="300" width="7" height="98" fill="#1a80c4" stroke="#04121e" stroke-width="1" />
<rect x="1549" y="300" width="7" height="98" fill="#1a80c4" stroke="#04121e" stroke-width="1" />
<line x1="1230" x2="1549" y1="302" y2="302" stroke="#04121e"/><line x1="1230" x2="1549" y1="396.5" y2="396.5" stroke="#04121e"/>
<path d="M520,373 H598 V591 A39,41 0 0 1 520,591 Z" fill="#00ffff" stroke="#000" stroke-width="1.2"/>
<line x1="520" x2="598" y1="591" y2="591" stroke="#000" stroke-width="1"/>
<rect x="520.6" y="436" width="76.8" height="27.5" fill="url(#gmesh)" />
<rect x="520.6" y="508" width="76.8" height="27.5" fill="url(#gmesh)" />
<circle cx="536" cy="449" r="2.6" fill="url(#bub)"/>
<circle cx="541" cy="467" r="4.2" fill="url(#bub)"/>
<circle cx="559" cy="468" r="5.2" fill="url(#bub)"/>
<circle cx="576" cy="482" r="4.5" fill="url(#bub)"/>
<circle cx="589" cy="481" r="5.5" fill="url(#bub)"/>
<circle cx="547" cy="497" r="3.5" fill="url(#bub)"/>
<circle cx="548" cy="503" r="2.5" fill="url(#bub)"/>
<circle cx="566" cy="519" r="4.5" fill="url(#bub)"/>
<circle cx="531" cy="536" r="5.5" fill="url(#bub)"/>
<circle cx="538" cy="534" r="3.5" fill="url(#bub)"/>
<circle cx="552" cy="551" r="2.8" fill="url(#bub)"/>
<circle cx="574" cy="552" r="4.2" fill="url(#bub)"/>
<circle cx="579" cy="558" r="5.5" fill="url(#bub)"/>
<circle cx="548" cy="566" r="4.2" fill="url(#bub)"/>
<circle cx="542" cy="577" r="3" fill="url(#bub)"/>
<rect x="1366" y="518" width="84" height="159" fill="#00ffff" stroke="#000" stroke-width="1" />
<rect x="1450" y="518" width="96" height="159" fill="url(#cool)" stroke="#000" stroke-width="1" />
<line x1="1366" x2="1546" y1="598" y2="598" stroke="#000" stroke-width="1.5"/>
<path d="M1384.5,540.0 H1409.0 V554.5 H1401.5 Z" fill="#6c6c6c" stroke="#101010" stroke-width="0.9"/>
<circle cx="1384.5" cy="558.5" r="18.3" fill="#6c6c6c" stroke="#101010" stroke-width="1.1"/>
<circle cx="1384.5" cy="558.5" r="13.8" fill="#808080" stroke="#101010" stroke-width="1.1"/>
<circle cx="1384.5" cy="558.5" r="11.6" fill="none" stroke="#383838" stroke-width="2.2" stroke-dasharray="2.2,2.2"/>
<rect x="1375.0" y="548.5" width="18.5" height="19.5" fill="#8e8e8e" stroke="#101010" stroke-width="1"/>
<text x="1384.0" y="565.3" font-family="'Liberation Serif', serif" font-size="20" text-anchor="middle" fill="#2c2c2c">3</text>
<path d="M1426,540.0 H1450.5 V554.5 H1443 Z" fill="#6c6c6c" stroke="#101010" stroke-width="0.9"/>
<circle cx="1426" cy="558.5" r="18.3" fill="#6c6c6c" stroke="#101010" stroke-width="1.1"/>
<circle cx="1426" cy="558.5" r="13.8" fill="#808080" stroke="#101010" stroke-width="1.1"/>
<circle cx="1426" cy="558.5" r="11.6" fill="none" stroke="#383838" stroke-width="2.2" stroke-dasharray="2.2,2.2"/>
<rect x="1416.5" y="548.5" width="18.5" height="19.5" fill="#8e8e8e" stroke="#101010" stroke-width="1"/>
<text x="1425.5" y="565.3" font-family="'Liberation Serif', serif" font-size="20" text-anchor="middle" fill="#2c2c2c">4</text>
<path d="M1384.5,622.5 H1409.0 V637 H1401.5 Z" fill="#6c6c6c" stroke="#101010" stroke-width="0.9"/>
<circle cx="1384.5" cy="641" r="18.3" fill="#6c6c6c" stroke="#101010" stroke-width="1.1"/>
<circle cx="1384.5" cy="641" r="13.8" fill="#808080" stroke="#101010" stroke-width="1.1"/>
<circle cx="1384.5" cy="641" r="11.6" fill="none" stroke="#383838" stroke-width="2.2" stroke-dasharray="2.2,2.2"/>
<rect x="1375.0" y="631" width="18.5" height="19.5" fill="#8e8e8e" stroke="#101010" stroke-width="1"/>
<text x="1384.0" y="647.8" font-family="'Liberation Serif', serif" font-size="20" text-anchor="middle" fill="#2c2c2c">1</text>
<path d="M1426,622.5 H1450.5 V637 H1443 Z" fill="#6c6c6c" stroke="#101010" stroke-width="0.9"/>
<circle cx="1426" cy="641" r="18.3" fill="#6c6c6c" stroke="#101010" stroke-width="1.1"/>
<circle cx="1426" cy="641" r="13.8" fill="#808080" stroke="#101010" stroke-width="1.1"/>
<circle cx="1426" cy="641" r="11.6" fill="none" stroke="#383838" stroke-width="2.2" stroke-dasharray="2.2,2.2"/>
<rect x="1416.5" y="631" width="18.5" height="19.5" fill="#8e8e8e" stroke="#101010" stroke-width="1"/>
<text x="1425.5" y="647.8" font-family="'Liberation Serif', serif" font-size="20" text-anchor="middle" fill="#2c2c2c">2</text>
<rect x="108" y="457" width="95" height="11" fill="#d8d8d8" stroke="#505050" stroke-width="1" />
<rect x="100" y="467" width="128" height="3" fill="#d0d0d0" stroke="#404040" stroke-width="0.8" />
<polygon points="108,471 203,471 205,535 106,535" fill="url(#dew)" stroke="#606060" stroke-width="1"/>
<rect x="106" y="533" width="99" height="4" fill="#e8e8e8" stroke="#404040" stroke-width="0.8" />
<polygon points="114,538 197,538 168,562 144,562" fill="#c8c8c8" stroke="#707070" stroke-width="0.8"/>
<polygon points="144,562 168,562 170,567 142,567" fill="#f0f0f0" stroke="#707070" stroke-width="0.8"/>
<rect x="108" y="537" width="4" height="49" fill="#d0d0d0" stroke="#505050" stroke-width="0.8" />
<rect x="115" y="537" width="3" height="45" fill="#d0d0d0" stroke="#505050" stroke-width="0.8" />
<rect x="192" y="537" width="3" height="45" fill="#d0d0d0" stroke="#505050" stroke-width="0.8" />
<rect x="199" y="537" width="4" height="49" fill="#d0d0d0" stroke="#505050" stroke-width="0.8" />
<rect x="205" y="466" width="11" height="6" fill="#e0e0e0" stroke="#404040" stroke-width="0.8" />
<path d="M207,472 h7 l-2,4 h-3 z" fill="#e0e0e0" stroke="#404040" stroke-width="0.8"/>
<rect x="209.5" y="476" width="2.5" height="64" fill="#d8d8d8" stroke="#404040" stroke-width="0.7" />
<rect x="221" y="467" width="7" height="12" fill="#e0e0e0" stroke="#404040" stroke-width="0.8" />
<rect x="216" y="470" width="5" height="2" fill="#d0d0d0" stroke="#404040" stroke-width="0.6" />
<rect x="219" y="479" width="8" height="4" fill="#e0e0e0" stroke="#404040" stroke-width="0.7" />
<rect x="204" y="535" width="24" height="24" fill="#b4b4b4" stroke="#404040" stroke-width="1" />
<rect x="209" y="540" width="7" height="15" fill="#505050" stroke="#202020" stroke-width="0.8" />
<rect x="228" y="540" width="2.5" height="6" fill="#888" stroke="#303030" stroke-width="0.6" />
<rect x="228" y="550" width="2.5" height="6" fill="#888" stroke="#303030" stroke-width="0.6" />
<rect x="181" y="767" width="560" height="39" fill="url(#pool)" stroke="#000" stroke-width="1" />
<line x1="181" x2="741" y1="767.5" y2="767.5" stroke="#000" stroke-width="1.2"/>
<line x1="181" x2="741" y1="767.5" y2="767.5" stroke="#fff" stroke-width="1.4" stroke-dasharray="3,21"/>
<line x1="181" x2="181" y1="747" y2="806" stroke="#000" stroke-width="1.2"/>
<line x1="310" x2="310" y1="748" y2="767" stroke="#000" stroke-width="1"/>
<line x1="470" x2="470" y1="748" y2="767" stroke="#000" stroke-width="1"/>
<line x1="741" x2="741" y1="747" y2="806" stroke="#000" stroke-width="1.2"/>
<rect x="353" y="617" width="29" height="6" fill="#e0e0e0" stroke="#505050" stroke-width="0.8" />
<polygon points="345,623 390,623 386,657 349,657" fill="#d4d4d4" stroke="#505050" stroke-width="1"/>
<rect x="343" y="658" width="49" height="8" fill="#d8d8d8" stroke="#505050" stroke-width="0.9" />
<rect x="658" y="631" width="92" height="61" fill="#d0d0d0" stroke="#404040" stroke-width="1" />
<rect x="663" y="636" width="82" height="52" fill="#6a7272" stroke="#404040" stroke-width="0.8" />
<line x1="663" x2="745" y1="640.0" y2="640.0" stroke="#b4b8b8" stroke-width="1.5"/>
<line x1="663" x2="745" y1="645.6" y2="645.6" stroke="#b4b8b8" stroke-width="1.5"/>
<line x1="663" x2="745" y1="651.2" y2="651.2" stroke="#b4b8b8" stroke-width="1.5"/>
<line x1="663" x2="745" y1="656.8" y2="656.8" stroke="#b4b8b8" stroke-width="1.5"/>
<line x1="663" x2="745" y1="662.4" y2="662.4" stroke="#b4b8b8" stroke-width="1.5"/>
<line x1="663" x2="745" y1="668.0" y2="668.0" stroke="#b4b8b8" stroke-width="1.5"/>
<line x1="663" x2="745" y1="673.6" y2="673.6" stroke="#b4b8b8" stroke-width="1.5"/>
<line x1="663" x2="745" y1="679.2" y2="679.2" stroke="#b4b8b8" stroke-width="1.5"/>
<line x1="663" x2="745" y1="684.8" y2="684.8" stroke="#b4b8b8" stroke-width="1.5"/>
<rect x="702" y="636" width="4" height="52" fill="#e0e0e0" />
<rect x="649" y="633" width="9" height="10" fill="#d8d8d8" stroke="#404040" stroke-width="0.8" />
<rect x="649" y="635" width="3" height="6" fill="#f0f0f0" stroke="#404040" stroke-width="0.6" />
<rect x="649" y="682" width="9" height="10" fill="#d8d8d8" stroke="#404040" stroke-width="0.8" />
<rect x="649" y="684" width="3" height="6" fill="#f0f0f0" stroke="#404040" stroke-width="0.6" />
<rect x="750" y="633" width="9" height="10" fill="#d8d8d8" stroke="#404040" stroke-width="0.8" />
<rect x="756" y="635" width="3" height="6" fill="#f0f0f0" stroke="#404040" stroke-width="0.6" />
<rect x="750" y="682" width="9" height="10" fill="#d8d8d8" stroke="#404040" stroke-width="0.8" />
<rect x="756" y="684" width="3" height="6" fill="#f0f0f0" stroke="#404040" stroke-width="0.6" />
<rect x="188.5" y="197.3" width="3.6" height="3.6" fill="#fff" stroke="#303030" stroke-width="0.7" />
<rect x="188.5" y="232.3" width="3.6" height="3.6" fill="#fff" stroke="#303030" stroke-width="0.7" />
<rect x="193.5" y="197.3" width="3.6" height="3.6" fill="#fff" stroke="#303030" stroke-width="0.7" />
<rect x="193.5" y="232.3" width="3.6" height="3.6" fill="#fff" stroke="#303030" stroke-width="0.7" />
<rect x="198.5" y="197.3" width="3.6" height="3.6" fill="#fff" stroke="#303030" stroke-width="0.7" />
<rect x="198.5" y="232.3" width="3.6" height="3.6" fill="#fff" stroke="#303030" stroke-width="0.7" />
<rect x="203.5" y="197.3" width="3.6" height="3.6" fill="#fff" stroke="#303030" stroke-width="0.7" />
<rect x="203.5" y="232.3" width="3.6" height="3.6" fill="#fff" stroke="#303030" stroke-width="0.7" />
<rect x="185.5" y="200.8" width="25.0" height="10" fill="url(#flg)" stroke="#303030" stroke-width="1" />
<rect x="189.0" y="210.8" width="18.0" height="13.5" fill="#d6d6d6" stroke="#303030" stroke-width="1" />
<rect x="191.5" y="212.8" width="13.0" height="9.5" fill="#e6e6e6" stroke="#303030" stroke-width="0.9" />
<rect x="185.5" y="224.3" width="25.0" height="9.5" fill="url(#flg)" stroke="#303030" stroke-width="1" />
<rect x="209.0" y="211.4" width="13.0" height="11.5" fill="#787878" stroke="#181818" stroke-width="0.8" />
<path d="M214.0,212.20000000000002 l1.6,1.6 l-1.6,1.6 l-1.6,-1.6 z" fill="#fff" opacity="0.85"/>
<path d="M214.0,222.20000000000002 l1.6,1.6 l-1.6,1.6 l-1.6,-1.6 z" fill="#fff" opacity="0.85"/>
<rect x="221.0" y="205.4" width="15.0" height="24" fill="#484848" stroke="#181818" stroke-width="0.8" />
<rect x="223.0" y="203.4" width="7.0" height="2.5" fill="#303030" stroke="#181818" stroke-width="0.5" />
<rect x="223.0" y="217.4" width="7.5" height="10" fill="#787878" stroke="#181818" stroke-width="0.6" />
<circle cx="227.0" cy="212.9" r="3.2" fill="#303030" stroke="#181818" stroke-width="0.6"/>
<rect x="236.0" y="204.4" width="14.0" height="25" fill="#6c6c6c" stroke="#181818" stroke-width="1" />
<rect x="238.2" y="204.4" width="2.0" height="25" fill="#484848" stroke="#181818" stroke-width="0.5" />
<circle cx="244.5" cy="223.9" r="2.6" fill="#303030" stroke="#181818" stroke-width="0.6"/>
<rect x="243.5" y="202.4" width="2.5" height="2" fill="#303030" />
<path d="M250.0,211.4 Q257.0,216.9 250.0,222.4 Z" fill="#f4f4f4" stroke="#181818" stroke-width="0.7"/>
<path d="M232.5,205.4 V199.4 Q232.5,194.9 237.0,194.9 H240.5 Q245.0,194.9 245.0,199.4 V202.4" fill="none" stroke="#181818" stroke-width="2.6"/><path d="M232.5,205.4 V199.4 Q232.5,194.9 237.0,194.9 H240.5 Q245.0,194.9 245.0,199.4 V202.4" fill="none" stroke="#a0a0a0" stroke-width="1.3"/>
<rect x="305.7" y="197.3" width="3.6" height="3.6" fill="#d8ffd8" stroke="#0a4a0a" stroke-width="0.7" />
<rect x="305.7" y="232.3" width="3.6" height="3.6" fill="#d8ffd8" stroke="#0a4a0a" stroke-width="0.7" />
<rect x="310.7" y="197.3" width="3.6" height="3.6" fill="#d8ffd8" stroke="#0a4a0a" stroke-width="0.7" />
<rect x="310.7" y="232.3" width="3.6" height="3.6" fill="#d8ffd8" stroke="#0a4a0a" stroke-width="0.7" />
<rect x="315.7" y="197.3" width="3.6" height="3.6" fill="#d8ffd8" stroke="#0a4a0a" stroke-width="0.7" />
<rect x="315.7" y="232.3" width="3.6" height="3.6" fill="#d8ffd8" stroke="#0a4a0a" stroke-width="0.7" />
<rect x="320.7" y="197.3" width="3.6" height="3.6" fill="#d8ffd8" stroke="#0a4a0a" stroke-width="0.7" />
<rect x="320.7" y="232.3" width="3.6" height="3.6" fill="#d8ffd8" stroke="#0a4a0a" stroke-width="0.7" />
<rect x="302.7" y="200.8" width="25.0" height="10" fill="url(#flgg)" stroke="#0a4a0a" stroke-width="1" />
<rect x="306.2" y="210.8" width="18.0" height="13.5" fill="#8cf58c" stroke="#0a4a0a" stroke-width="1" />
<rect x="308.7" y="212.8" width="13.0" height="9.5" fill="#a8ffa8" stroke="#0a4a0a" stroke-width="0.9" />
<rect x="302.7" y="224.3" width="25.0" height="9.5" fill="url(#flgg)" stroke="#0a4a0a" stroke-width="1" />
<rect x="290.7" y="211.4" width="13.0" height="11.5" fill="#00c400" stroke="#003c00" stroke-width="0.8" />
<path d="M298.7,212.20000000000002 l1.6,1.6 l-1.6,1.6 l-1.6,-1.6 z" fill="#fff" opacity="0.85"/>
<path d="M298.7,222.20000000000002 l1.6,1.6 l-1.6,1.6 l-1.6,-1.6 z" fill="#fff" opacity="0.85"/>
<rect x="276.7" y="205.4" width="15.0" height="24" fill="#00a000" stroke="#003c00" stroke-width="0.8" />
<rect x="282.7" y="203.4" width="7.0" height="2.5" fill="#006c00" stroke="#003c00" stroke-width="0.5" />
<rect x="282.2" y="217.4" width="7.5" height="10" fill="#00c400" stroke="#003c00" stroke-width="0.6" />
<circle cx="285.7" cy="212.9" r="3.2" fill="#006c00" stroke="#003c00" stroke-width="0.6"/>
<rect x="262.7" y="204.4" width="14.0" height="25" fill="#00d000" stroke="#003c00" stroke-width="1" />
<rect x="272.5" y="204.4" width="2.0" height="25" fill="#00a000" stroke="#003c00" stroke-width="0.5" />
<circle cx="268.2" cy="223.9" r="2.6" fill="#006c00" stroke="#003c00" stroke-width="0.6"/>
<rect x="266.7" y="202.4" width="2.5" height="2" fill="#006c00" />
<path d="M262.7,211.4 Q255.7,216.9 262.7,222.4 Z" fill="#c8ffc8" stroke="#003c00" stroke-width="0.7"/>
<path d="M280.2,205.4 V199.4 Q280.2,194.9 275.7,194.9 H272.2 Q267.7,194.9 267.7,199.4 V202.4" fill="none" stroke="#003c00" stroke-width="2.6"/><path d="M280.2,205.4 V199.4 Q280.2,194.9 275.7,194.9 H272.2 Q267.7,194.9 267.7,199.4 V202.4" fill="none" stroke="#00e800" stroke-width="1.3"/>
<rect x="188.5" y="278" width="3.6" height="3.6" fill="#fff" stroke="#303030" stroke-width="0.7" />
<rect x="188.5" y="313" width="3.6" height="3.6" fill="#fff" stroke="#303030" stroke-width="0.7" />
<rect x="193.5" y="278" width="3.6" height="3.6" fill="#fff" stroke="#303030" stroke-width="0.7" />
<rect x="193.5" y="313" width="3.6" height="3.6" fill="#fff" stroke="#303030" stroke-width="0.7" />
<rect x="198.5" y="278" width="3.6" height="3.6" fill="#fff" stroke="#303030" stroke-width="0.7" />
<rect x="198.5" y="313" width="3.6" height="3.6" fill="#fff" stroke="#303030" stroke-width="0.7" />
<rect x="203.5" y="278" width="3.6" height="3.6" fill="#fff" stroke="#303030" stroke-width="0.7" />
<rect x="203.5" y="313" width="3.6" height="3.6" fill="#fff" stroke="#303030" stroke-width="0.7" />
<rect x="185.5" y="281.5" width="25.0" height="10" fill="url(#flg)" stroke="#303030" stroke-width="1" />
<rect x="189.0" y="291.5" width="18.0" height="13.5" fill="#d6d6d6" stroke="#303030" stroke-width="1" />
<rect x="191.5" y="293.5" width="13.0" height="9.5" fill="#e6e6e6" stroke="#303030" stroke-width="0.9" />
<rect x="185.5" y="305" width="25.0" height="9.5" fill="url(#flg)" stroke="#303030" stroke-width="1" />
<rect x="209.0" y="292.1" width="13.0" height="11.5" fill="#787878" stroke="#181818" stroke-width="0.8" />
<path d="M214.0,292.90000000000003 l1.6,1.6 l-1.6,1.6 l-1.6,-1.6 z" fill="#fff" opacity="0.85"/>
<path d="M214.0,302.90000000000003 l1.6,1.6 l-1.6,1.6 l-1.6,-1.6 z" fill="#fff" opacity="0.85"/>
<rect x="221.0" y="286.1" width="15.0" height="24" fill="#484848" stroke="#181818" stroke-width="0.8" />
<rect x="223.0" y="284.1" width="7.0" height="2.5" fill="#303030" stroke="#181818" stroke-width="0.5" />
<rect x="223.0" y="298.1" width="7.5" height="10" fill="#787878" stroke="#181818" stroke-width="0.6" />
<circle cx="227.0" cy="293.6" r="3.2" fill="#303030" stroke="#181818" stroke-width="0.6"/>
<rect x="236.0" y="285.1" width="14.0" height="25" fill="#6c6c6c" stroke="#181818" stroke-width="1" />
<rect x="238.2" y="285.1" width="2.0" height="25" fill="#484848" stroke="#181818" stroke-width="0.5" />
<circle cx="244.5" cy="304.6" r="2.6" fill="#303030" stroke="#181818" stroke-width="0.6"/>
<rect x="243.5" y="283.1" width="2.5" height="2" fill="#303030" />
<path d="M250.0,292.1 Q257.0,297.6 250.0,303.1 Z" fill="#f4f4f4" stroke="#181818" stroke-width="0.7"/>
<path d="M232.5,286.1 V280.1 Q232.5,275.6 237.0,275.6 H240.5 Q245.0,275.6 245.0,280.1 V283.1" fill="none" stroke="#181818" stroke-width="2.6"/><path d="M232.5,286.1 V280.1 Q232.5,275.6 237.0,275.6 H240.5 Q245.0,275.6 245.0,280.1 V283.1" fill="none" stroke="#a0a0a0" stroke-width="1.3"/>
<rect x="307.1" y="278" width="3.6" height="3.6" fill="#d8ffd8" stroke="#0a4a0a" stroke-width="0.7" />
<rect x="307.1" y="313" width="3.6" height="3.6" fill="#d8ffd8" stroke="#0a4a0a" stroke-width="0.7" />
<rect x="312.1" y="278" width="3.6" height="3.6" fill="#d8ffd8" stroke="#0a4a0a" stroke-width="0.7" />
<rect x="312.1" y="313" width="3.6" height="3.6" fill="#d8ffd8" stroke="#0a4a0a" stroke-width="0.7" />
<rect x="317.1" y="278" width="3.6" height="3.6" fill="#d8ffd8" stroke="#0a4a0a" stroke-width="0.7" />
<rect x="317.1" y="313" width="3.6" height="3.6" fill="#d8ffd8" stroke="#0a4a0a" stroke-width="0.7" />
<rect x="322.1" y="278" width="3.6" height="3.6" fill="#d8ffd8" stroke="#0a4a0a" stroke-width="0.7" />
<rect x="322.1" y="313" width="3.6" height="3.6" fill="#d8ffd8" stroke="#0a4a0a" stroke-width="0.7" />
<rect x="304.1" y="281.5" width="25.0" height="10" fill="url(#flgg)" stroke="#0a4a0a" stroke-width="1" />
<rect x="307.6" y="291.5" width="18.0" height="13.5" fill="#8cf58c" stroke="#0a4a0a" stroke-width="1" />
<rect x="310.1" y="293.5" width="13.0" height="9.5" fill="#a8ffa8" stroke="#0a4a0a" stroke-width="0.9" />
<rect x="304.1" y="305" width="25.0" height="9.5" fill="url(#flgg)" stroke="#0a4a0a" stroke-width="1" />
<rect x="292.1" y="292.1" width="13.0" height="11.5" fill="#00c400" stroke="#003c00" stroke-width="0.8" />
<path d="M300.1,292.90000000000003 l1.6,1.6 l-1.6,1.6 l-1.6,-1.6 z" fill="#fff" opacity="0.85"/>
<path d="M300.1,302.90000000000003 l1.6,1.6 l-1.6,1.6 l-1.6,-1.6 z" fill="#fff" opacity="0.85"/>
<rect x="278.1" y="286.1" width="15.0" height="24" fill="#00a000" stroke="#003c00" stroke-width="0.8" />
<rect x="284.1" y="284.1" width="7.0" height="2.5" fill="#006c00" stroke="#003c00" stroke-width="0.5" />
<rect x="283.6" y="298.1" width="7.5" height="10" fill="#00c400" stroke="#003c00" stroke-width="0.6" />
<circle cx="287.1" cy="293.6" r="3.2" fill="#006c00" stroke="#003c00" stroke-width="0.6"/>
<rect x="264.1" y="285.1" width="14.0" height="25" fill="#00d000" stroke="#003c00" stroke-width="1" />
<rect x="273.90000000000003" y="285.1" width="2.0" height="25" fill="#00a000" stroke="#003c00" stroke-width="0.5" />
<circle cx="269.6" cy="304.6" r="2.6" fill="#006c00" stroke="#003c00" stroke-width="0.6"/>
<rect x="268.1" y="283.1" width="2.5" height="2" fill="#006c00" />
<path d="M264.1,292.1 Q257.1,297.6 264.1,303.1 Z" fill="#c8ffc8" stroke="#003c00" stroke-width="0.7"/>
<path d="M281.6,286.1 V280.1 Q281.6,275.6 277.1,275.6 H273.6 Q269.1,275.6 269.1,280.1 V283.1" fill="none" stroke="#003c00" stroke-width="2.6"/><path d="M281.6,286.1 V280.1 Q281.6,275.6 277.1,275.6 H273.6 Q269.1,275.6 269.1,280.1 V283.1" fill="none" stroke="#00e800" stroke-width="1.3"/>
<rect x="178" y="234.5" width="13" height="46" fill="#b0b0b0" stroke="#000" stroke-width="1" />
<line x1="178" x2="191" y1="238.05" y2="238.05" stroke="#000" stroke-width="0.8"/>
<line x1="178" x2="191" y1="241.6" y2="241.6" stroke="#000" stroke-width="0.8"/>
<line x1="178" x2="191" y1="245.15" y2="245.15" stroke="#000" stroke-width="0.8"/>
<line x1="178" x2="191" y1="248.7" y2="248.7" stroke="#000" stroke-width="0.8"/>
<line x1="178" x2="191" y1="252.25" y2="252.25" stroke="#000" stroke-width="0.8"/>
<line x1="178" x2="191" y1="255.8" y2="255.8" stroke="#000" stroke-width="0.8"/>
<line x1="178" x2="191" y1="259.35" y2="259.35" stroke="#000" stroke-width="0.8"/>
<line x1="178" x2="191" y1="262.9" y2="262.9" stroke="#000" stroke-width="0.8"/>
<line x1="178" x2="191" y1="266.45" y2="266.45" stroke="#000" stroke-width="0.8"/>
<line x1="178" x2="191" y1="270.0" y2="270.0" stroke="#000" stroke-width="0.8"/>
<line x1="178" x2="191" y1="273.55" y2="273.55" stroke="#000" stroke-width="0.8"/>
<line x1="178" x2="191" y1="277.1" y2="277.1" stroke="#000" stroke-width="0.8"/>
<line x1="182.29" x2="182.29" y1="234.5" y2="280.5" stroke="#000" stroke-width="0.7"/>
<line x1="186.58" x2="186.58" y1="234.5" y2="280.5" stroke="#000" stroke-width="0.7"/>
<rect x="101" y="246" width="78" height="24" fill="url(#silv)" stroke="#606060" stroke-width="0.8" />
<rect x="112" y="245.5" width="58" height="24.5" fill="#000" />
<rect x="112" y="252.70000000000002" width="58.5" height="1.3" fill="#fff" />
<rect x="112" y="255.6" width="58.5" height="1.3" fill="#fff" />
<rect x="112" y="258.5" width="58.5" height="1.3" fill="#fff" />
<rect x="112" y="261.4" width="58.5" height="1.3" fill="#fff" />
<rect x="136" y="241.4" width="10" height="3.4" fill="#e8e8e8" stroke="#000" stroke-width="0.8" />
<rect x="139" y="240.4" width="4" height="5.2" fill="#e8e8e8" stroke="#000" stroke-width="0.7" />
<polygon points="120,270 130,270 127,276.5 115,276.5" fill="#808080" stroke="#000" stroke-width="0.5"/>
<polygon points="153,270 163,270 168,276.5 156,276.5" fill="#808080" stroke="#000" stroke-width="0.5"/>
<rect x="111" y="276" width="62" height="2.4" fill="#a4a4a4" stroke="#000" stroke-width="0.7" />
<rect x="101" y="278" width="81" height="18" fill="#a4a4a4" stroke="#000" stroke-width="1" />
<rect x="108" y="279.5" width="67" height="14.5" fill="#8c8c8c" stroke="#000" stroke-width="0.8" />
<rect x="98" y="282" width="3" height="10" fill="#d0d0d0" stroke="#000" stroke-width="0.7" />
<rect x="325" y="235.0" width="13" height="46" fill="#00e000" stroke="#003000" stroke-width="1" />
<line x1="325" x2="338" y1="238.55" y2="238.55" stroke="#003000" stroke-width="0.8"/>
<line x1="325" x2="338" y1="242.1" y2="242.1" stroke="#003000" stroke-width="0.8"/>
<line x1="325" x2="338" y1="245.65" y2="245.65" stroke="#003000" stroke-width="0.8"/>
<line x1="325" x2="338" y1="249.2" y2="249.2" stroke="#003000" stroke-width="0.8"/>
<line x1="325" x2="338" y1="252.75" y2="252.75" stroke="#003000" stroke-width="0.8"/>
<line x1="325" x2="338" y1="256.3" y2="256.3" stroke="#003000" stroke-width="0.8"/>
<line x1="325" x2="338" y1="259.85" y2="259.85" stroke="#003000" stroke-width="0.8"/>
<line x1="325" x2="338" y1="263.4" y2="263.4" stroke="#003000" stroke-width="0.8"/>
<line x1="325" x2="338" y1="266.95" y2="266.95" stroke="#003000" stroke-width="0.8"/>
<line x1="325" x2="338" y1="270.5" y2="270.5" stroke="#003000" stroke-width="0.8"/>
<line x1="325" x2="338" y1="274.05" y2="274.05" stroke="#003000" stroke-width="0.8"/>
<line x1="325" x2="338" y1="277.6" y2="277.6" stroke="#003000" stroke-width="0.8"/>
<line x1="329.29" x2="329.29" y1="235.0" y2="281.0" stroke="#003000" stroke-width="0.7"/>
<line x1="333.58" x2="333.58" y1="235.0" y2="281.0" stroke="#003000" stroke-width="0.7"/>
<rect x="337" y="246.5" width="78" height="24" fill="url(#silvg)" stroke="#0a7a0a" stroke-width="0.8" />
<rect x="346" y="246.0" width="58" height="24.5" fill="#000" />
<rect x="345.5" y="253.20000000000002" width="58.5" height="1.3" fill="#d0ffd0" />
<rect x="345.5" y="256.09999999999997" width="58.5" height="1.3" fill="#d0ffd0" />
<rect x="345.5" y="259.0" width="58.5" height="1.3" fill="#d0ffd0" />
<rect x="345.5" y="261.9" width="58.5" height="1.3" fill="#d0ffd0" />
<rect x="370" y="241.9" width="10" height="3.4" fill="#b0ffb0" stroke="#003000" stroke-width="0.8" />
<rect x="373" y="240.9" width="4" height="5.2" fill="#b0ffb0" stroke="#003000" stroke-width="0.7" />
<polygon points="396,270.5 386,270.5 389,277.0 401,277.0" fill="#00e800" stroke="#003000" stroke-width="0.5"/>
<polygon points="363,270.5 353,270.5 348,277.0 360,277.0" fill="#00e800" stroke="#003000" stroke-width="0.5"/>
<rect x="343" y="276.5" width="62" height="2.4" fill="#00ff00" stroke="#003000" stroke-width="0.7" />
<rect x="334" y="278.5" width="81" height="18" fill="#00ff00" stroke="#003000" stroke-width="1" />
<rect x="341" y="280.0" width="67" height="14.5" fill="#20f020" stroke="#003000" stroke-width="0.8" />
<rect x="415" y="282.5" width="3" height="10" fill="#60ff60" stroke="#003000" stroke-width="0.7" />
<rect x="665.3" y="192.8" width="3.6" height="3.6" fill="#fff" stroke="#303030" stroke-width="0.7" />
<rect x="665.3" y="227.8" width="3.6" height="3.6" fill="#fff" stroke="#303030" stroke-width="0.7" />
<rect x="670.3" y="192.8" width="3.6" height="3.6" fill="#fff" stroke="#303030" stroke-width="0.7" />
<rect x="670.3" y="227.8" width="3.6" height="3.6" fill="#fff" stroke="#303030" stroke-width="0.7" />
<rect x="675.3" y="192.8" width="3.6" height="3.6" fill="#fff" stroke="#303030" stroke-width="0.7" />
<rect x="675.3" y="227.8" width="3.6" height="3.6" fill="#fff" stroke="#303030" stroke-width="0.7" />
<rect x="680.3" y="192.8" width="3.6" height="3.6" fill="#fff" stroke="#303030" stroke-width="0.7" />
<rect x="680.3" y="227.8" width="3.6" height="3.6" fill="#fff" stroke="#303030" stroke-width="0.7" />
<rect x="662.3" y="196.3" width="25.0" height="10" fill="url(#flg)" stroke="#303030" stroke-width="1" />
<rect x="665.8" y="206.3" width="18.0" height="13.5" fill="#d6d6d6" stroke="#303030" stroke-width="1" />
<rect x="668.3" y="208.3" width="13.0" height="9.5" fill="#e6e6e6" stroke="#303030" stroke-width="0.9" />
<rect x="662.3" y="219.8" width="25.0" height="9.5" fill="url(#flg)" stroke="#303030" stroke-width="1" />
<rect x="686.3" y="206.3" width="13.0" height="11.5" fill="#787878" stroke="#181818" stroke-width="0.8" />
<path d="M691.3,207.10000000000002 l1.6,1.6 l-1.6,1.6 l-1.6,-1.6 z" fill="#fff" opacity="0.85"/>
<path d="M691.3,217.10000000000002 l1.6,1.6 l-1.6,1.6 l-1.6,-1.6 z" fill="#fff" opacity="0.85"/>
<rect x="698.3" y="200.3" width="15.0" height="24" fill="#484848" stroke="#181818" stroke-width="0.8" />
<rect x="700.3" y="198.3" width="7.0" height="2.5" fill="#303030" stroke="#181818" stroke-width="0.5" />
<rect x="700.3" y="212.3" width="7.5" height="10" fill="#787878" stroke="#181818" stroke-width="0.6" />
<circle cx="704.3" cy="207.8" r="3.2" fill="#303030" stroke="#181818" stroke-width="0.6"/>
<rect x="713.3" y="199.3" width="14.0" height="25" fill="#6c6c6c" stroke="#181818" stroke-width="1" />
<rect x="715.5" y="199.3" width="2.0" height="25" fill="#484848" stroke="#181818" stroke-width="0.5" />
<circle cx="721.8" cy="218.8" r="2.6" fill="#303030" stroke="#181818" stroke-width="0.6"/>
<rect x="720.8" y="197.3" width="2.5" height="2" fill="#303030" />
<path d="M727.3,206.3 Q734.3,211.8 727.3,217.3 Z" fill="#f4f4f4" stroke="#181818" stroke-width="0.7"/>
<path d="M709.8,200.3 V194.3 Q709.8,189.8 714.3,189.8 H717.8 Q722.3,189.8 722.3,194.3 V197.3" fill="none" stroke="#181818" stroke-width="2.6"/><path d="M709.8,200.3 V194.3 Q709.8,189.8 714.3,189.8 H717.8 Q722.3,189.8 722.3,194.3 V197.3" fill="none" stroke="#a0a0a0" stroke-width="1.3"/>
<rect x="783.8" y="192.8" width="3.6" height="3.6" fill="#fff" stroke="#303030" stroke-width="0.7" />
<rect x="783.8" y="227.8" width="3.6" height="3.6" fill="#fff" stroke="#303030" stroke-width="0.7" />
<rect x="788.8" y="192.8" width="3.6" height="3.6" fill="#fff" stroke="#303030" stroke-width="0.7" />
<rect x="788.8" y="227.8" width="3.6" height="3.6" fill="#fff" stroke="#303030" stroke-width="0.7" />
<rect x="793.8" y="192.8" width="3.6" height="3.6" fill="#fff" stroke="#303030" stroke-width="0.7" />
<rect x="793.8" y="227.8" width="3.6" height="3.6" fill="#fff" stroke="#303030" stroke-width="0.7" />
<rect x="798.8" y="192.8" width="3.6" height="3.6" fill="#fff" stroke="#303030" stroke-width="0.7" />
<rect x="798.8" y="227.8" width="3.6" height="3.6" fill="#fff" stroke="#303030" stroke-width="0.7" />
<rect x="780.8" y="196.3" width="25.0" height="10" fill="url(#flg)" stroke="#303030" stroke-width="1" />
<rect x="784.3" y="206.3" width="18.0" height="13.5" fill="#d6d6d6" stroke="#303030" stroke-width="1" />
<rect x="786.8" y="208.3" width="13.0" height="9.5" fill="#e6e6e6" stroke="#303030" stroke-width="0.9" />
<rect x="780.8" y="219.8" width="25.0" height="9.5" fill="url(#flg)" stroke="#303030" stroke-width="1" />
<rect x="768.8" y="206.3" width="13.0" height="11.5" fill="#787878" stroke="#181818" stroke-width="0.8" />
<path d="M776.8,207.10000000000002 l1.6,1.6 l-1.6,1.6 l-1.6,-1.6 z" fill="#fff" opacity="0.85"/>
<path d="M776.8,217.10000000000002 l1.6,1.6 l-1.6,1.6 l-1.6,-1.6 z" fill="#fff" opacity="0.85"/>
<rect x="754.8" y="200.3" width="15.0" height="24" fill="#484848" stroke="#181818" stroke-width="0.8" />
<rect x="760.8" y="198.3" width="7.0" height="2.5" fill="#303030" stroke="#181818" stroke-width="0.5" />
<rect x="760.3" y="212.3" width="7.5" height="10" fill="#787878" stroke="#181818" stroke-width="0.6" />
<circle cx="763.8" cy="207.8" r="3.2" fill="#303030" stroke="#181818" stroke-width="0.6"/>
<rect x="740.8" y="199.3" width="14.0" height="25" fill="#6c6c6c" stroke="#181818" stroke-width="1" />
<rect x="750.5999999999999" y="199.3" width="2.0" height="25" fill="#484848" stroke="#181818" stroke-width="0.5" />
<circle cx="746.3" cy="218.8" r="2.6" fill="#303030" stroke="#181818" stroke-width="0.6"/>
<rect x="744.8" y="197.3" width="2.5" height="2" fill="#303030" />
<path d="M740.8,206.3 Q733.8,211.8 740.8,217.3 Z" fill="#f4f4f4" stroke="#181818" stroke-width="0.7"/>
<path d="M758.3,200.3 V194.3 Q758.3,189.8 753.8,189.8 H750.3 Q745.8,189.8 745.8,194.3 V197.3" fill="none" stroke="#181818" stroke-width="2.6"/><path d="M758.3,200.3 V194.3 Q758.3,189.8 753.8,189.8 H750.3 Q745.8,189.8 745.8,194.3 V197.3" fill="none" stroke="#a0a0a0" stroke-width="1.3"/>
<rect x="665.3" y="274.5" width="3.6" height="3.6" fill="#fff" stroke="#303030" stroke-width="0.7" />
<rect x="665.3" y="309.5" width="3.6" height="3.6" fill="#fff" stroke="#303030" stroke-width="0.7" />
<rect x="670.3" y="274.5" width="3.6" height="3.6" fill="#fff" stroke="#303030" stroke-width="0.7" />
<rect x="670.3" y="309.5" width="3.6" height="3.6" fill="#fff" stroke="#303030" stroke-width="0.7" />
<rect x="675.3" y="274.5" width="3.6" height="3.6" fill="#fff" stroke="#303030" stroke-width="0.7" />
<rect x="675.3" y="309.5" width="3.6" height="3.6" fill="#fff" stroke="#303030" stroke-width="0.7" />
<rect x="680.3" y="274.5" width="3.6" height="3.6" fill="#fff" stroke="#303030" stroke-width="0.7" />
<rect x="680.3" y="309.5" width="3.6" height="3.6" fill="#fff" stroke="#303030" stroke-width="0.7" />
<rect x="662.3" y="278.0" width="25.0" height="10" fill="url(#flg)" stroke="#303030" stroke-width="1" />
<rect x="665.8" y="288.0" width="18.0" height="13.5" fill="#d6d6d6" stroke="#303030" stroke-width="1" />
<rect x="668.3" y="290.0" width="13.0" height="9.5" fill="#e6e6e6" stroke="#303030" stroke-width="0.9" />
<rect x="662.3" y="301.5" width="25.0" height="9.5" fill="url(#flg)" stroke="#303030" stroke-width="1" />
<rect x="686.3" y="288.0" width="13.0" height="11.5" fill="#787878" stroke="#181818" stroke-width="0.8" />
<path d="M691.3,288.8 l1.6,1.6 l-1.6,1.6 l-1.6,-1.6 z" fill="#fff" opacity="0.85"/>
<path d="M691.3,298.8 l1.6,1.6 l-1.6,1.6 l-1.6,-1.6 z" fill="#fff" opacity="0.85"/>
<rect x="698.3" y="282.0" width="15.0" height="24" fill="#484848" stroke="#181818" stroke-width="0.8" />
<rect x="700.3" y="280.0" width="7.0" height="2.5" fill="#303030" stroke="#181818" stroke-width="0.5" />
<rect x="700.3" y="294.0" width="7.5" height="10" fill="#787878" stroke="#181818" stroke-width="0.6" />
<circle cx="704.3" cy="289.5" r="3.2" fill="#303030" stroke="#181818" stroke-width="0.6"/>
<rect x="713.3" y="281.0" width="14.0" height="25" fill="#6c6c6c" stroke="#181818" stroke-width="1" />
<rect x="715.5" y="281.0" width="2.0" height="25" fill="#484848" stroke="#181818" stroke-width="0.5" />
<circle cx="721.8" cy="300.5" r="2.6" fill="#303030" stroke="#181818" stroke-width="0.6"/>
<rect x="720.8" y="279.0" width="2.5" height="2" fill="#303030" />
<path d="M727.3,288.0 Q734.3,293.5 727.3,299.0 Z" fill="#f4f4f4" stroke="#181818" stroke-width="0.7"/>
<path d="M709.8,282.0 V276.0 Q709.8,271.5 714.3,271.5 H717.8 Q722.3,271.5 722.3,276.0 V279.0" fill="none" stroke="#181818" stroke-width="2.6"/><path d="M709.8,282.0 V276.0 Q709.8,271.5 714.3,271.5 H717.8 Q722.3,271.5 722.3,276.0 V279.0" fill="none" stroke="#a0a0a0" stroke-width="1.3"/>
<rect x="785.5" y="274.5" width="3.6" height="3.6" fill="#fff" stroke="#303030" stroke-width="0.7" />
<rect x="785.5" y="309.5" width="3.6" height="3.6" fill="#fff" stroke="#303030" stroke-width="0.7" />
<rect x="790.5" y="274.5" width="3.6" height="3.6" fill="#fff" stroke="#303030" stroke-width="0.7" />
<rect x="790.5" y="309.5" width="3.6" height="3.6" fill="#fff" stroke="#303030" stroke-width="0.7" />
<rect x="795.5" y="274.5" width="3.6" height="3.6" fill="#fff" stroke="#303030" stroke-width="0.7" />
<rect x="795.5" y="309.5" width="3.6" height="3.6" fill="#fff" stroke="#303030" stroke-width="0.7" />
<rect x="800.5" y="274.5" width="3.6" height="3.6" fill="#fff" stroke="#303030" stroke-width="0.7" />
<rect x="800.5" y="309.5" width="3.6" height="3.6" fill="#fff" stroke="#303030" stroke-width="0.7" />
<rect x="782.5" y="278.0" width="25.0" height="10" fill="url(#flg)" stroke="#303030" stroke-width="1" />
<rect x="786.0" y="288.0" width="18.0" height="13.5" fill="#d6d6d6" stroke="#303030" stroke-width="1" />
<rect x="788.5" y="290.0" width="13.0" height="9.5" fill="#e6e6e6" stroke="#303030" stroke-width="0.9" />
<rect x="782.5" y="301.5" width="25.0" height="9.5" fill="url(#flg)" stroke="#303030" stroke-width="1" />
<rect x="770.5" y="288.0" width="13.0" height="11.5" fill="#787878" stroke="#181818" stroke-width="0.8" />
<path d="M778.5,288.8 l1.6,1.6 l-1.6,1.6 l-1.6,-1.6 z" fill="#fff" opacity="0.85"/>
<path d="M778.5,298.8 l1.6,1.6 l-1.6,1.6 l-1.6,-1.6 z" fill="#fff" opacity="0.85"/>
<rect x="756.5" y="282.0" width="15.0" height="24" fill="#484848" stroke="#181818" stroke-width="0.8" />
<rect x="762.5" y="280.0" width="7.0" height="2.5" fill="#303030" stroke="#181818" stroke-width="0.5" />
<rect x="762.0" y="294.0" width="7.5" height="10" fill="#787878" stroke="#181818" stroke-width="0.6" />
<circle cx="765.5" cy="289.5" r="3.2" fill="#303030" stroke="#181818" stroke-width="0.6"/>
<rect x="742.5" y="281.0" width="14.0" height="25" fill="#6c6c6c" stroke="#181818" stroke-width="1" />
<rect x="752.3" y="281.0" width="2.0" height="25" fill="#484848" stroke="#181818" stroke-width="0.5" />
<circle cx="748.0" cy="300.5" r="2.6" fill="#303030" stroke="#181818" stroke-width="0.6"/>
<rect x="746.5" y="279.0" width="2.5" height="2" fill="#303030" />
<path d="M742.5,288.0 Q735.5,293.5 742.5,299.0 Z" fill="#f4f4f4" stroke="#181818" stroke-width="0.7"/>
<path d="M760.0,282.0 V276.0 Q760.0,271.5 755.5,271.5 H752.0 Q747.5,271.5 747.5,276.0 V279.0" fill="none" stroke="#181818" stroke-width="2.6"/><path d="M760.0,282.0 V276.0 Q760.0,271.5 755.5,271.5 H752.0 Q747.5,271.5 747.5,276.0 V279.0" fill="none" stroke="#a0a0a0" stroke-width="1.3"/>
<rect x="655" y="229.5" width="13" height="46" fill="#b0b0b0" stroke="#000" stroke-width="1" />
<line x1="655" x2="668" y1="233.05" y2="233.05" stroke="#000" stroke-width="0.8"/>
<line x1="655" x2="668" y1="236.6" y2="236.6" stroke="#000" stroke-width="0.8"/>
<line x1="655" x2="668" y1="240.15" y2="240.15" stroke="#000" stroke-width="0.8"/>
<line x1="655" x2="668" y1="243.7" y2="243.7" stroke="#000" stroke-width="0.8"/>
<line x1="655" x2="668" y1="247.25" y2="247.25" stroke="#000" stroke-width="0.8"/>
<line x1="655" x2="668" y1="250.8" y2="250.8" stroke="#000" stroke-width="0.8"/>
<line x1="655" x2="668" y1="254.35" y2="254.35" stroke="#000" stroke-width="0.8"/>
<line x1="655" x2="668" y1="257.9" y2="257.9" stroke="#000" stroke-width="0.8"/>
<line x1="655" x2="668" y1="261.45" y2="261.45" stroke="#000" stroke-width="0.8"/>
<line x1="655" x2="668" y1="265.0" y2="265.0" stroke="#000" stroke-width="0.8"/>
<line x1="655" x2="668" y1="268.55" y2="268.55" stroke="#000" stroke-width="0.8"/>
<line x1="655" x2="668" y1="272.1" y2="272.1" stroke="#000" stroke-width="0.8"/>
<line x1="659.29" x2="659.29" y1="229.5" y2="275.5" stroke="#000" stroke-width="0.7"/>
<line x1="663.58" x2="663.58" y1="229.5" y2="275.5" stroke="#000" stroke-width="0.7"/>
<rect x="578" y="241" width="78" height="24" fill="url(#silv)" stroke="#606060" stroke-width="0.8" />
<rect x="589" y="240.5" width="58" height="24.5" fill="#000" />
<rect x="589" y="247.70000000000002" width="58.5" height="1.3" fill="#fff" />
<rect x="589" y="250.6" width="58.5" height="1.3" fill="#fff" />
<rect x="589" y="253.5" width="58.5" height="1.3" fill="#fff" />
<rect x="589" y="256.4" width="58.5" height="1.3" fill="#fff" />
<rect x="613" y="236.4" width="10" height="3.4" fill="#e8e8e8" stroke="#000" stroke-width="0.8" />
<rect x="616" y="235.4" width="4" height="5.2" fill="#e8e8e8" stroke="#000" stroke-width="0.7" />
<polygon points="597,265 607,265 604,271.5 592,271.5" fill="#808080" stroke="#000" stroke-width="0.5"/>
<polygon points="630,265 640,265 645,271.5 633,271.5" fill="#808080" stroke="#000" stroke-width="0.5"/>
<rect x="588" y="271" width="62" height="2.4" fill="#a4a4a4" stroke="#000" stroke-width="0.7" />
<rect x="578" y="273" width="81" height="18" fill="#a4a4a4" stroke="#000" stroke-width="1" />
<rect x="585" y="274.5" width="67" height="14.5" fill="#8c8c8c" stroke="#000" stroke-width="0.8" />
<rect x="575" y="277" width="3" height="10" fill="#d0d0d0" stroke="#000" stroke-width="0.7" />
<rect x="801" y="228.5" width="13" height="46" fill="#b0b0b0" stroke="#000" stroke-width="1" />
<line x1="801" x2="814" y1="232.05" y2="232.05" stroke="#000" stroke-width="0.8"/>
<line x1="801" x2="814" y1="235.6" y2="235.6" stroke="#000" stroke-width="0.8"/>
<line x1="801" x2="814" y1="239.15" y2="239.15" stroke="#000" stroke-width="0.8"/>
<line x1="801" x2="814" y1="242.7" y2="242.7" stroke="#000" stroke-width="0.8"/>
<line x1="801" x2="814" y1="246.25" y2="246.25" stroke="#000" stroke-width="0.8"/>
<line x1="801" x2="814" y1="249.8" y2="249.8" stroke="#000" stroke-width="0.8"/>
<line x1="801" x2="814" y1="253.35" y2="253.35" stroke="#000" stroke-width="0.8"/>
<line x1="801" x2="814" y1="256.9" y2="256.9" stroke="#000" stroke-width="0.8"/>
<line x1="801" x2="814" y1="260.45" y2="260.45" stroke="#000" stroke-width="0.8"/>
<line x1="801" x2="814" y1="264.0" y2="264.0" stroke="#000" stroke-width="0.8"/>
<line x1="801" x2="814" y1="267.55" y2="267.55" stroke="#000" stroke-width="0.8"/>
<line x1="801" x2="814" y1="271.1" y2="271.1" stroke="#000" stroke-width="0.8"/>
<line x1="805.29" x2="805.29" y1="228.5" y2="274.5" stroke="#000" stroke-width="0.7"/>
<line x1="809.58" x2="809.58" y1="228.5" y2="274.5" stroke="#000" stroke-width="0.7"/>
<rect x="813" y="240" width="78" height="24" fill="url(#silv)" stroke="#606060" stroke-width="0.8" />
<rect x="822" y="239.5" width="58" height="24.5" fill="#000" />
<rect x="821.5" y="246.70000000000002" width="58.5" height="1.3" fill="#fff" />
<rect x="821.5" y="249.6" width="58.5" height="1.3" fill="#fff" />
<rect x="821.5" y="252.5" width="58.5" height="1.3" fill="#fff" />
<rect x="821.5" y="255.4" width="58.5" height="1.3" fill="#fff" />
<rect x="846" y="235.4" width="10" height="3.4" fill="#e8e8e8" stroke="#000" stroke-width="0.8" />
<rect x="849" y="234.4" width="4" height="5.2" fill="#e8e8e8" stroke="#000" stroke-width="0.7" />
<polygon points="872,264 862,264 865,270.5 877,270.5" fill="#808080" stroke="#000" stroke-width="0.5"/>
<polygon points="839,264 829,264 824,270.5 836,270.5" fill="#808080" stroke="#000" stroke-width="0.5"/>
<rect x="819" y="270" width="62" height="2.4" fill="#a4a4a4" stroke="#000" stroke-width="0.7" />
<rect x="810" y="272" width="81" height="18" fill="#a4a4a4" stroke="#000" stroke-width="1" />
<rect x="817" y="273.5" width="67" height="14.5" fill="#8c8c8c" stroke="#000" stroke-width="0.8" />
<rect x="891" y="276" width="3" height="10" fill="#d0d0d0" stroke="#000" stroke-width="0.7" />
<path d="M704,140 H729" stroke="#006000" stroke-width="4"/><path d="M704,140 H729" stroke="#00ff00" stroke-width="2"/>
<g transform="rotate(0 688 140)">
<path d="M678,126 h-6 v4 h-1.5 v20 h1.5 v4 h6 z" fill="#00ff00" stroke="#006000" stroke-width="1"/>
<path d="M672,133 h3 M672,147 h3" stroke="#006000" stroke-width="1"/>
<circle cx="689" cy="140" r="13.6" fill="#00ff00" stroke="#006000" stroke-width="1.2"/>
<circle cx="689" cy="140" r="10.6" fill="none" stroke="#006000" stroke-width="1.1"/>
<circle cx="689" cy="140" r="8" fill="none" stroke="#006000" stroke-width="1.1"/>
<line x1="689" y1="126.4" x2="689" y2="129.4" stroke="#006000" stroke-width="1" transform="rotate(45 689 140)"/>
<line x1="689" y1="126.4" x2="689" y2="129.4" stroke="#006000" stroke-width="1" transform="rotate(135 689 140)"/>
<line x1="689" y1="126.4" x2="689" y2="129.4" stroke="#006000" stroke-width="1" transform="rotate(225 689 140)"/>
<line x1="689" y1="126.4" x2="689" y2="129.4" stroke="#006000" stroke-width="1" transform="rotate(315 689 140)"/>
<rect x="687.2" y="134.5" width="3.6" height="11" fill="#00ff00" stroke="#006000" stroke-width="1.1"/>
<rect x="702.4" y="137.4" width="3.4" height="5.2" fill="#00ff00" stroke="#006000" stroke-width="0.8"/>
</g>
<rect x="747" y="130.0" width="19" height="6.5" fill="#00f0f0" stroke="#006a70" stroke-width="0.6" />
<rect x="747" y="144.5" width="19" height="6.5" fill="#00f0f0" stroke="#006a70" stroke-width="0.6" />
<rect x="746" y="137.0" width="20" height="7" fill="#00f0f0" stroke="#006a70" stroke-width="0.6" />
<rect x="768" y="137.0" width="4.5" height="7" fill="#00f0f0" stroke="#006a70" stroke-width="0.6" />
<rect x="754" y="130.0" width="6" height="21" fill="#00c4c8" />
<path d="M753,141.0 h2.4 M758.6,141.0 h2.4" stroke="#003038" stroke-width="1"/>
<rect x="774.5" y="125.30000000000001" width="30.0" height="30.0" fill="#000" />
<circle cx="789.5" cy="140.3" r="14.5" fill="#fff" stroke="#30a0a0" stroke-width="1.2"/>
<circle cx="789.5" cy="140.3" r="12.9" fill="#fff" stroke="#d0ffff" stroke-width="0.8"/>
<path d="M1296.5,280 V302" stroke="#005000" stroke-width="4.5"/><path d="M1296.5,280 V302" stroke="#00ff00" stroke-width="2"/>
<g transform="rotate(90 1296.5 265)">
<path d="M1286.5,251 h-6 v4 h-1.5 v20 h1.5 v4 h6 z" fill="#00ff00" stroke="#006000" stroke-width="1"/>
<path d="M1280.5,258 h3 M1280.5,272 h3" stroke="#006000" stroke-width="1"/>
<circle cx="1297.5" cy="265" r="13.6" fill="#00ff00" stroke="#006000" stroke-width="1.2"/>
<circle cx="1297.5" cy="265" r="10.6" fill="none" stroke="#006000" stroke-width="1.1"/>
<circle cx="1297.5" cy="265" r="8" fill="none" stroke="#006000" stroke-width="1.1"/>
<line x1="1297.5" y1="251.4" x2="1297.5" y2="254.4" stroke="#006000" stroke-width="1" transform="rotate(45 1297.5 265)"/>
<line x1="1297.5" y1="251.4" x2="1297.5" y2="254.4" stroke="#006000" stroke-width="1" transform="rotate(135 1297.5 265)"/>
<line x1="1297.5" y1="251.4" x2="1297.5" y2="254.4" stroke="#006000" stroke-width="1" transform="rotate(225 1297.5 265)"/>
<line x1="1297.5" y1="251.4" x2="1297.5" y2="254.4" stroke="#006000" stroke-width="1" transform="rotate(315 1297.5 265)"/>
<rect x="1295.7" y="259.5" width="3.6" height="11" fill="#00ff00" stroke="#006000" stroke-width="1.1"/>
<rect x="1310.9" y="262.4" width="3.4" height="5.2" fill="#00ff00" stroke="#006000" stroke-width="0.8"/>
</g>
<rect x="1321.0" y="245.0" width="34.0" height="34.0" fill="#000" />
<circle cx="1338" cy="262" r="16.5" fill="#fff" stroke="#30a0a0" stroke-width="1.2"/>
<circle cx="1338" cy="262" r="14.9" fill="#fff" stroke="#d0ffff" stroke-width="0.8"/>
<rect x="1334.5" y="279" width="7" height="5" fill="#00f0f0" stroke="#006a70" stroke-width="0.6" />
<rect x="1324.0" y="284" width="10.0" height="18" fill="#00f0f0" stroke="#006a70" stroke-width="0.6" />
<rect x="1342" y="284" width="10.0" height="18" fill="#00f0f0" stroke="#006a70" stroke-width="0.6" />
<rect x="1334" y="282" width="8" height="20" fill="#00f0f0" stroke="#006a70" stroke-width="0.6" />
<rect x="1324.0" y="294" width="28" height="5" fill="#00c4c8" />
<circle cx="1338" cy="297" r="1" fill="#003038"/>
<rect x="977.5" y="491.0" width="26.0" height="26.0" fill="#000" />
<circle cx="990.5" cy="504" r="12.5" fill="#fff" stroke="#30a0a0" stroke-width="1.2"/>
<circle cx="990.5" cy="504" r="10.9" fill="#fff" stroke="#d0ffff" stroke-width="0.8"/>
<rect x="987.0" y="517" width="7" height="5" fill="#00f0f0" stroke="#006a70" stroke-width="0.6" />
<rect x="980.0" y="522" width="6.5" height="20" fill="#00f0f0" stroke="#006a70" stroke-width="0.6" />
<rect x="994.5" y="522" width="6.5" height="20" fill="#00f0f0" stroke="#006a70" stroke-width="0.6" />
<rect x="986.5" y="520" width="8" height="22" fill="#00f0f0" stroke="#006a70" stroke-width="0.6" />
<rect x="980.0" y="534" width="21" height="5" fill="#00c4c8" />
<circle cx="990.5" cy="537" r="1" fill="#003038"/>
<path d="M1463,421 H1507" stroke="#000" stroke-width="2.5"/><rect x="1484" y="418.5" width="6" height="5" fill="#00c000" stroke="#003000" stroke-width="0.6"/>
<g transform="rotate(0 1447 421)">
<path d="M1437,407 h-6 v4 h-1.5 v20 h1.5 v4 h6 z" fill="#00ff00" stroke="#006000" stroke-width="1"/>
<path d="M1431,414 h3 M1431,428 h3" stroke="#006000" stroke-width="1"/>
<circle cx="1448" cy="421" r="13.6" fill="#00ff00" stroke="#006000" stroke-width="1.2"/>
<circle cx="1448" cy="421" r="10.6" fill="none" stroke="#006000" stroke-width="1.1"/>
<circle cx="1448" cy="421" r="8" fill="none" stroke="#006000" stroke-width="1.1"/>
<line x1="1448" y1="407.4" x2="1448" y2="410.4" stroke="#006000" stroke-width="1" transform="rotate(45 1448 421)"/>
<line x1="1448" y1="407.4" x2="1448" y2="410.4" stroke="#006000" stroke-width="1" transform="rotate(135 1448 421)"/>
<line x1="1448" y1="407.4" x2="1448" y2="410.4" stroke="#006000" stroke-width="1" transform="rotate(225 1448 421)"/>
<line x1="1448" y1="407.4" x2="1448" y2="410.4" stroke="#006000" stroke-width="1" transform="rotate(315 1448 421)"/>
<rect x="1446.2" y="415.5" width="3.6" height="11" fill="#00ff00" stroke="#006000" stroke-width="1.1"/>
<rect x="1461.4" y="418.4" width="3.4" height="5.2" fill="#00ff00" stroke="#006000" stroke-width="0.8"/>
</g>
<path d="M1146,709 V756" stroke="#005000" stroke-width="4"/><path d="M1146,709 V756" stroke="#00e000" stroke-width="1.6"/>
<g transform="rotate(-90 1146 771)">
<path d="M1136,757 h-6 v4 h-1.5 v20 h1.5 v4 h6 z" fill="#00ff00" stroke="#006000" stroke-width="1"/>
<path d="M1130,764 h3 M1130,778 h3" stroke="#006000" stroke-width="1"/>
<circle cx="1147" cy="771" r="13.6" fill="#00ff00" stroke="#006000" stroke-width="1.2"/>
<circle cx="1147" cy="771" r="10.6" fill="none" stroke="#006000" stroke-width="1.1"/>
<circle cx="1147" cy="771" r="8" fill="none" stroke="#006000" stroke-width="1.1"/>
<line x1="1147" y1="757.4" x2="1147" y2="760.4" stroke="#006000" stroke-width="1" transform="rotate(45 1147 771)"/>
<line x1="1147" y1="757.4" x2="1147" y2="760.4" stroke="#006000" stroke-width="1" transform="rotate(135 1147 771)"/>
<line x1="1147" y1="757.4" x2="1147" y2="760.4" stroke="#006000" stroke-width="1" transform="rotate(225 1147 771)"/>
<line x1="1147" y1="757.4" x2="1147" y2="760.4" stroke="#006000" stroke-width="1" transform="rotate(315 1147 771)"/>
<rect x="1145.2" y="765.5" width="3.6" height="11" fill="#00ff00" stroke="#006000" stroke-width="1.1"/>
<rect x="1160.4" y="768.4" width="3.4" height="5.2" fill="#00ff00" stroke="#006000" stroke-width="0.8"/>
</g>
<path d="M1401,709 V761" stroke="#005000" stroke-width="4"/><path d="M1401,709 V761" stroke="#00e000" stroke-width="1.6"/>
<g transform="rotate(-90 1401 776)">
<path d="M1391,762 h-6 v4 h-1.5 v20 h1.5 v4 h6 z" fill="#00ff00" stroke="#006000" stroke-width="1"/>
<path d="M1385,769 h3 M1385,783 h3" stroke="#006000" stroke-width="1"/>
<circle cx="1402" cy="776" r="13.6" fill="#00ff00" stroke="#006000" stroke-width="1.2"/>
<circle cx="1402" cy="776" r="10.6" fill="none" stroke="#006000" stroke-width="1.1"/>
<circle cx="1402" cy="776" r="8" fill="none" stroke="#006000" stroke-width="1.1"/>
<line x1="1402" y1="762.4" x2="1402" y2="765.4" stroke="#006000" stroke-width="1" transform="rotate(45 1402 776)"/>
<line x1="1402" y1="762.4" x2="1402" y2="765.4" stroke="#006000" stroke-width="1" transform="rotate(135 1402 776)"/>
<line x1="1402" y1="762.4" x2="1402" y2="765.4" stroke="#006000" stroke-width="1" transform="rotate(225 1402 776)"/>
<line x1="1402" y1="762.4" x2="1402" y2="765.4" stroke="#006000" stroke-width="1" transform="rotate(315 1402 776)"/>
<rect x="1400.2" y="770.5" width="3.6" height="11" fill="#00ff00" stroke="#006000" stroke-width="1.1"/>
<rect x="1415.4" y="773.4" width="3.4" height="5.2" fill="#00ff00" stroke="#006000" stroke-width="0.8"/>
</g>
<rect x="911.76" y="561" width="3.3120000000000003" height="3.6" fill="#fff" stroke="#303030" stroke-width="0.7" />
<rect x="911.76" y="596" width="3.3120000000000003" height="3.6" fill="#fff" stroke="#303030" stroke-width="0.7" />
<rect x="916.36" y="561" width="3.3120000000000003" height="3.6" fill="#fff" stroke="#303030" stroke-width="0.7" />
<rect x="916.36" y="596" width="3.3120000000000003" height="3.6" fill="#fff" stroke="#303030" stroke-width="0.7" />
<rect x="920.96" y="561" width="3.3120000000000003" height="3.6" fill="#fff" stroke="#303030" stroke-width="0.7" />
<rect x="920.96" y="596" width="3.3120000000000003" height="3.6" fill="#fff" stroke="#303030" stroke-width="0.7" />
<rect x="925.56" y="561" width="3.3120000000000003" height="3.6" fill="#fff" stroke="#303030" stroke-width="0.7" />
<rect x="925.56" y="596" width="3.3120000000000003" height="3.6" fill="#fff" stroke="#303030" stroke-width="0.7" />
<rect x="909.0" y="564.5" width="23" height="10" fill="url(#flg)" stroke="#303030" stroke-width="1" />
<rect x="912.22" y="574.5" width="16.560000000000002" height="13.5" fill="#d6d6d6" stroke="#303030" stroke-width="1" />
<rect x="914.52" y="576.5" width="11.96" height="9.5" fill="#e6e6e6" stroke="#303030" stroke-width="0.9" />
<rect x="909.0" y="588" width="23" height="9.5" fill="url(#flg)" stroke="#303030" stroke-width="1" />
<rect x="899.18" y="574.5" width="11.180000000000064" height="11.5" fill="#787878" stroke="#181818" stroke-width="0.8" />
<path d="M906.06,575.3 l1.6,1.6 l-1.6,1.6 l-1.6,-1.6 z" fill="#fff" opacity="0.85"/>
<path d="M906.06,585.3 l1.6,1.6 l-1.6,1.6 l-1.6,-1.6 z" fill="#fff" opacity="0.85"/>
<rect x="887.14" y="568.5" width="12.899999999999977" height="24" fill="#484848" stroke="#181818" stroke-width="0.8" />
<rect x="892.3" y="566.5" width="6.0200000000000955" height="2.5" fill="#303030" stroke="#181818" stroke-width="0.5" />
<rect x="891.87" y="580.5" width="6.4500000000000455" height="10" fill="#787878" stroke="#181818" stroke-width="0.6" />
<circle cx="894.88" cy="576" r="3.2" fill="#303030" stroke="#181818" stroke-width="0.6"/>
<rect x="875.1" y="567.5" width="12.039999999999964" height="25" fill="#6c6c6c" stroke="#181818" stroke-width="1" />
<rect x="883.528" y="567.5" width="1.7200000000000273" height="25" fill="#484848" stroke="#181818" stroke-width="0.5" />
<circle cx="879.83" cy="587" r="2.6" fill="#303030" stroke="#181818" stroke-width="0.6"/>
<rect x="878.54" y="565.5" width="2.150000000000091" height="2" fill="#303030" />
<path d="M875.1,574.5 Q869.08,580 875.1,585.5 Z" fill="#f4f4f4" stroke="#181818" stroke-width="0.7"/>
<path d="M890.15,568.5 V562.5 Q890.15,558 886.28,558 H883.27 Q879.4,558 879.4,562.5 V565.5" fill="none" stroke="#181818" stroke-width="2.6"/><path d="M890.15,568.5 V562.5 Q890.15,558 886.28,558 H883.27 Q879.4,558 879.4,562.5 V565.5" fill="none" stroke="#a0a0a0" stroke-width="1.3"/>
<rect x="911.76" y="647" width="3.3120000000000003" height="3.6" fill="#fff" stroke="#303030" stroke-width="0.7" />
<rect x="911.76" y="682" width="3.3120000000000003" height="3.6" fill="#fff" stroke="#303030" stroke-width="0.7" />
<rect x="916.36" y="647" width="3.3120000000000003" height="3.6" fill="#fff" stroke="#303030" stroke-width="0.7" />
<rect x="916.36" y="682" width="3.3120000000000003" height="3.6" fill="#fff" stroke="#303030" stroke-width="0.7" />
<rect x="920.96" y="647" width="3.3120000000000003" height="3.6" fill="#fff" stroke="#303030" stroke-width="0.7" />
<rect x="920.96" y="682" width="3.3120000000000003" height="3.6" fill="#fff" stroke="#303030" stroke-width="0.7" />
<rect x="925.56" y="647" width="3.3120000000000003" height="3.6" fill="#fff" stroke="#303030" stroke-width="0.7" />
<rect x="925.56" y="682" width="3.3120000000000003" height="3.6" fill="#fff" stroke="#303030" stroke-width="0.7" />
<rect x="909.0" y="650.5" width="23" height="10" fill="url(#flg)" stroke="#303030" stroke-width="1" />
<rect x="912.22" y="660.5" width="16.560000000000002" height="13.5" fill="#d6d6d6" stroke="#303030" stroke-width="1" />
<rect x="914.52" y="662.5" width="11.96" height="9.5" fill="#e6e6e6" stroke="#303030" stroke-width="0.9" />
<rect x="909.0" y="674" width="23" height="9.5" fill="url(#flg)" stroke="#303030" stroke-width="1" />
<rect x="899.18" y="660.5" width="11.180000000000064" height="11.5" fill="#787878" stroke="#181818" stroke-width="0.8" />
<path d="M906.06,661.3 l1.6,1.6 l-1.6,1.6 l-1.6,-1.6 z" fill="#fff" opacity="0.85"/>
<path d="M906.06,671.3 l1.6,1.6 l-1.6,1.6 l-1.6,-1.6 z" fill="#fff" opacity="0.85"/>
<rect x="887.14" y="654.5" width="12.899999999999977" height="24" fill="#484848" stroke="#181818" stroke-width="0.8" />
<rect x="892.3" y="652.5" width="6.0200000000000955" height="2.5" fill="#303030" stroke="#181818" stroke-width="0.5" />
<rect x="891.87" y="666.5" width="6.4500000000000455" height="10" fill="#787878" stroke="#181818" stroke-width="0.6" />
<circle cx="894.88" cy="662" r="3.2" fill="#303030" stroke="#181818" stroke-width="0.6"/>
<rect x="875.1" y="653.5" width="12.039999999999964" height="25" fill="#6c6c6c" stroke="#181818" stroke-width="1" />
<rect x="883.528" y="653.5" width="1.7200000000000273" height="25" fill="#484848" stroke="#181818" stroke-width="0.5" />
<circle cx="879.83" cy="673" r="2.6" fill="#303030" stroke="#181818" stroke-width="0.6"/>
<rect x="878.54" y="651.5" width="2.150000000000091" height="2" fill="#303030" />
<path d="M875.1,660.5 Q869.08,666 875.1,671.5 Z" fill="#f4f4f4" stroke="#181818" stroke-width="0.7"/>
<path d="M890.15,654.5 V648.5 Q890.15,644 886.28,644 H883.27 Q879.4,644 879.4,648.5 V651.5" fill="none" stroke="#181818" stroke-width="2.6"/><path d="M890.15,654.5 V648.5 Q890.15,644 886.28,644 H883.27 Q879.4,644 879.4,648.5 V651.5" fill="none" stroke="#a0a0a0" stroke-width="1.3"/>
<rect x="1056.76" y="559.5" width="3.3120000000000003" height="3.6" fill="#fff" stroke="#303030" stroke-width="0.7" />
<rect x="1056.76" y="594.5" width="3.3120000000000003" height="3.6" fill="#fff" stroke="#303030" stroke-width="0.7" />
<rect x="1061.36" y="559.5" width="3.3120000000000003" height="3.6" fill="#fff" stroke="#303030" stroke-width="0.7" />
<rect x="1061.36" y="594.5" width="3.3120000000000003" height="3.6" fill="#fff" stroke="#303030" stroke-width="0.7" />
<rect x="1065.96" y="559.5" width="3.3120000000000003" height="3.6" fill="#fff" stroke="#303030" stroke-width="0.7" />
<rect x="1065.96" y="594.5" width="3.3120000000000003" height="3.6" fill="#fff" stroke="#303030" stroke-width="0.7" />
<rect x="1070.56" y="559.5" width="3.3120000000000003" height="3.6" fill="#fff" stroke="#303030" stroke-width="0.7" />
<rect x="1070.56" y="594.5" width="3.3120000000000003" height="3.6" fill="#fff" stroke="#303030" stroke-width="0.7" />
<rect x="1054.0" y="563.0" width="23" height="10" fill="url(#flg)" stroke="#303030" stroke-width="1" />
<rect x="1057.22" y="573.0" width="16.560000000000002" height="13.5" fill="#d6d6d6" stroke="#303030" stroke-width="1" />
<rect x="1059.52" y="575.0" width="11.96" height="9.5" fill="#e6e6e6" stroke="#303030" stroke-width="0.9" />
<rect x="1054.0" y="586.5" width="23" height="9.5" fill="url(#flg)" stroke="#303030" stroke-width="1" />
<rect x="1044.18" y="573.0" width="11.179999999999836" height="11.5" fill="#787878" stroke="#181818" stroke-width="0.8" />
<path d="M1051.06,573.8 l1.6,1.6 l-1.6,1.6 l-1.6,-1.6 z" fill="#fff" opacity="0.85"/>
<path d="M1051.06,583.8 l1.6,1.6 l-1.6,1.6 l-1.6,-1.6 z" fill="#fff" opacity="0.85"/>
<rect x="1032.14" y="567.0" width="12.899999999999864" height="24" fill="#484848" stroke="#181818" stroke-width="0.8" />
<rect x="1037.3" y="565.0" width="6.019999999999982" height="2.5" fill="#303030" stroke="#181818" stroke-width="0.5" />
<rect x="1036.87" y="579.0" width="6.4500000000000455" height="10" fill="#787878" stroke="#181818" stroke-width="0.6" />
<circle cx="1039.88" cy="574.5" r="3.2" fill="#303030" stroke="#181818" stroke-width="0.6"/>
<rect x="1020.1" y="566.0" width="12.040000000000077" height="25" fill="#6c6c6c" stroke="#181818" stroke-width="1" />
<rect x="1028.528" y="566.0" width="1.7200000000000273" height="25" fill="#484848" stroke="#181818" stroke-width="0.5" />
<circle cx="1024.83" cy="585.5" r="2.6" fill="#303030" stroke="#181818" stroke-width="0.6"/>
<rect x="1023.54" y="564.0" width="2.150000000000091" height="2" fill="#303030" />
<path d="M1020.1,573.0 Q1014.08,578.5 1020.1,584.0 Z" fill="#f4f4f4" stroke="#181818" stroke-width="0.7"/>
<path d="M1035.15,567.0 V561.0 Q1035.15,556.5 1031.2800000000002,556.5 H1028.27 Q1024.4,556.5 1024.4,561.0 V564.0" fill="none" stroke="#181818" stroke-width="2.6"/><path d="M1035.15,567.0 V561.0 Q1035.15,556.5 1031.2800000000002,556.5 H1028.27 Q1024.4,556.5 1024.4,561.0 V564.0" fill="none" stroke="#a0a0a0" stroke-width="1.3"/>
<rect x="1056.76" y="644" width="3.3120000000000003" height="3.6" fill="#fff" stroke="#303030" stroke-width="0.7" />
<rect x="1056.76" y="679" width="3.3120000000000003" height="3.6" fill="#fff" stroke="#303030" stroke-width="0.7" />
<rect x="1061.36" y="644" width="3.3120000000000003" height="3.6" fill="#fff" stroke="#303030" stroke-width="0.7" />
<rect x="1061.36" y="679" width="3.3120000000000003" height="3.6" fill="#fff" stroke="#303030" stroke-width="0.7" />
<rect x="1065.96" y="644" width="3.3120000000000003" height="3.6" fill="#fff" stroke="#303030" stroke-width="0.7" />
<rect x="1065.96" y="679" width="3.3120000000000003" height="3.6" fill="#fff" stroke="#303030" stroke-width="0.7" />
<rect x="1070.56" y="644" width="3.3120000000000003" height="3.6" fill="#fff" stroke="#303030" stroke-width="0.7" />
<rect x="1070.56" y="679" width="3.3120000000000003" height="3.6" fill="#fff" stroke="#303030" stroke-width="0.7" />
<rect x="1054.0" y="647.5" width="23" height="10" fill="url(#flg)" stroke="#303030" stroke-width="1" />
<rect x="1057.22" y="657.5" width="16.560000000000002" height="13.5" fill="#d6d6d6" stroke="#303030" stroke-width="1" />
<rect x="1059.52" y="659.5" width="11.96" height="9.5" fill="#e6e6e6" stroke="#303030" stroke-width="0.9" />
<rect x="1054.0" y="671" width="23" height="9.5" fill="url(#flg)" stroke="#303030" stroke-width="1" />
<rect x="1044.18" y="657.5" width="11.179999999999836" height="11.5" fill="#787878" stroke="#181818" stroke-width="0.8" />
<path d="M1051.06,658.3 l1.6,1.6 l-1.6,1.6 l-1.6,-1.6 z" fill="#fff" opacity="0.85"/>
<path d="M1051.06,668.3 l1.6,1.6 l-1.6,1.6 l-1.6,-1.6 z" fill="#fff" opacity="0.85"/>
<rect x="1032.14" y="651.5" width="12.899999999999864" height="24" fill="#484848" stroke="#181818" stroke-width="0.8" />
<rect x="1037.3" y="649.5" width="6.019999999999982" height="2.5" fill="#303030" stroke="#181818" stroke-width="0.5" />
<rect x="1036.87" y="663.5" width="6.4500000000000455" height="10" fill="#787878" stroke="#181818" stroke-width="0.6" />
<circle cx="1039.88" cy="659" r="3.2" fill="#303030" stroke="#181818" stroke-width="0.6"/>
<rect x="1020.1" y="650.5" width="12.040000000000077" height="25" fill="#6c6c6c" stroke="#181818" stroke-width="1" />
<rect x="1028.528" y="650.5" width="1.7200000000000273" height="25" fill="#484848" stroke="#181818" stroke-width="0.5" />
<circle cx="1024.83" cy="670" r="2.6" fill="#303030" stroke="#181818" stroke-width="0.6"/>
<rect x="1023.54" y="648.5" width="2.150000000000091" height="2" fill="#303030" />
<path d="M1020.1,657.5 Q1014.08,663 1020.1,668.5 Z" fill="#f4f4f4" stroke="#181818" stroke-width="0.7"/>
<path d="M1035.15,651.5 V645.5 Q1035.15,641 1031.2800000000002,641 H1028.27 Q1024.4,641 1024.4,645.5 V648.5" fill="none" stroke="#181818" stroke-width="2.6"/><path d="M1035.15,651.5 V645.5 Q1035.15,641 1031.2800000000002,641 H1028.27 Q1024.4,641 1024.4,645.5 V648.5" fill="none" stroke="#a0a0a0" stroke-width="1.3"/>
<rect x="829.5" y="689.5" width="3.0" height="24.0" fill="#90ff90" stroke="#003800" stroke-width="0.9" />
<rect x="861.5" y="689.5" width="3.0" height="24.0" fill="#90ff90" stroke="#003800" stroke-width="0.9" />
<rect x="828.5" y="690.5" width="2.0" height="4.0" fill="#d0ffd0" stroke="#003800" stroke-width="0.5" />
<rect x="863.5" y="690.5" width="2.0" height="4.0" fill="#d0ffd0" stroke="#003800" stroke-width="0.5" />
<rect x="828.5" y="696.5" width="2.0" height="4.0" fill="#d0ffd0" stroke="#003800" stroke-width="0.5" />
<rect x="863.5" y="696.5" width="2.0" height="4.0" fill="#d0ffd0" stroke="#003800" stroke-width="0.5" />
<rect x="828.5" y="702.5" width="2.0" height="4.0" fill="#d0ffd0" stroke="#003800" stroke-width="0.5" />
<rect x="863.5" y="702.5" width="2.0" height="4.0" fill="#d0ffd0" stroke="#003800" stroke-width="0.5" />
<rect x="828.5" y="708.5" width="2.0" height="4.0" fill="#d0ffd0" stroke="#003800" stroke-width="0.5" />
<rect x="863.5" y="708.5" width="2.0" height="4.0" fill="#d0ffd0" stroke="#003800" stroke-width="0.5" />
<rect x="832.5" y="686.0" width="9.0" height="31.0" fill="url(#flgg)" stroke="#003800" stroke-width="0.9" />
<rect x="852.5" y="686.0" width="9.0" height="31.0" fill="url(#flgg)" stroke="#003800" stroke-width="0.9" />
<rect x="841.5" y="689.5" width="11.0" height="24.0" fill="#80f080" stroke="#003800" stroke-width="0.9" />
<rect x="843.0" y="696.5" width="8.0" height="13.0" fill="#b0ffb0" stroke="#003800" stroke-width="0.9" />
<rect x="841.5" y="674.5" width="11.0" height="12.0" fill="#00dc00" stroke="#003800" stroke-width="0.9" />
<rect x="839.5" y="678.5" width="3.0" height="6.0" fill="#90ff90" stroke="#003800" stroke-width="0.5" />
<rect x="838.0" y="663.0" width="18.0" height="10.5" fill="#00a800" stroke="#003800" stroke-width="0.9" />
<rect x="835.5" y="666.5" width="3.0" height="7.0" fill="#00dc00" stroke="#003800" stroke-width="0.5" />
<rect x="855.5" y="666.5" width="3.0" height="7.0" fill="#00dc00" stroke="#003800" stroke-width="0.5" />
<circle cx="844.0" cy="668.5" r="2.6" fill="#006800"/>
<rect x="842.0" y="656.5" width="10.0" height="6.5" fill="#008800" stroke="#003800" stroke-width="0.9" />
<rect x="836.0" y="640.0" width="23.0" height="16.5" fill="#00dc00" stroke="#003800" stroke-width="1.1" />
<path d="M836.0,651.5 H859.0" stroke="#003800" stroke-width="1.2"/>
<path d="M853.0,650.5 v-4 l1.6,-2 l1.6,2 v4 z" fill="#006000"/>
<path d="M841.5,640.0 L843.5,633.5 H851.5 L853.5,640.0 Z" fill="#90ff90" stroke="#003800" stroke-width="0.8"/>
<path d="M836.0,644.5 H832.0 Q828.5,644.5 828.5,648.5 V655.5 Q828.5,660.5 834.0,660.5 H839.0" fill="none" stroke="#003800" stroke-width="3.0"/><path d="M836.0,644.5 H832.0 Q828.5,644.5 828.5,648.5 V655.5 Q828.5,660.5 834.0,660.5 H839.0" fill="none" stroke="#40ff40" stroke-width="1.4"/>
<rect x="1046.3" y="249.7" width="3" height="14" fill="#90ff90" stroke="#003800" stroke-width="0.8" />
<rect x="1070.7" y="249.7" width="3" height="14" fill="#90ff90" stroke="#003800" stroke-width="0.8" />
<rect x="1045.8" y="250.7" width="2" height="3" fill="#d0ffd0" stroke="#003800" stroke-width="0.4" />
<rect x="1072.2" y="250.7" width="2" height="3" fill="#d0ffd0" stroke="#003800" stroke-width="0.4" />
<rect x="1045.8" y="255.2" width="2" height="3" fill="#d0ffd0" stroke="#003800" stroke-width="0.4" />
<rect x="1072.2" y="255.2" width="2" height="3" fill="#d0ffd0" stroke="#003800" stroke-width="0.4" />
<rect x="1045.8" y="259.7" width="2" height="3" fill="#d0ffd0" stroke="#003800" stroke-width="0.4" />
<rect x="1072.2" y="259.7" width="2" height="3" fill="#d0ffd0" stroke="#003800" stroke-width="0.4" />
<rect x="1049" y="248.39999999999998" width="6.6" height="16.6" fill="url(#flgg)" stroke="#003800" stroke-width="0.8" />
<rect x="1064.4" y="248.39999999999998" width="6.6" height="16.6" fill="url(#flgg)" stroke="#003800" stroke-width="0.8" />
<rect x="1055.6" y="250.2" width="8.8" height="13" fill="#80f080" stroke="#003800" stroke-width="0.8" />
<rect x="1057" y="253.7" width="6" height="7.5" fill="#b0ffb0" stroke="#003800" stroke-width="0.8" />
<rect x="1055" y="241.39999999999998" width="10" height="7" fill="#00dc00" stroke="#003800" stroke-width="0.8" />
<rect x="1053.5" y="243.7" width="2.5" height="4" fill="#90ff90" stroke="#003800" stroke-width="0.4" />
<rect x="1064" y="243.7" width="2.5" height="4" fill="#90ff90" stroke="#003800" stroke-width="0.4" />
<rect x="1052" y="236.0" width="15.6" height="5.4" fill="#00a800" stroke="#003800" stroke-width="0.8" />
<rect x="1055.5" y="232.39999999999998" width="9" height="3.6" fill="#008800" stroke="#003800" stroke-width="0.8" />
<rect x="1050.6" y="223.0" width="18.4" height="9.4" fill="#00dc00" stroke="#003800" stroke-width="1" />
<path d="M1052,228.2 l3,-2 h13" stroke="#003800" stroke-width="1" fill="none"/>
<rect x="1069" y="226.0" width="5.8" height="8.5" fill="#00dc00" stroke="#003800" stroke-width="0.9" />
<circle cx="1070.5" cy="230.2" r="1.8" fill="#d8d8d8"/>
<rect x="1056.4" y="220.0" width="7.6" height="3" fill="#90ff90" stroke="#003800" stroke-width="0.8" />
<path d="M1166,342 V358" stroke="#00e000" stroke-width="1.4"/><path d="M1167.2,342 V358" stroke="#000" stroke-width="0.8"/>
<path d="M1159,381.5 V364 Q1159,356.5 1167,356.5 H1206 L1218,364 V372 L1206,378.5 H1169 V381.5 Z" fill="#484848" stroke="#000" stroke-width="1.1"/>
<rect x="1179.5" y="355.5" width="2.2" height="23" fill="#3c3c3c" stroke="#000" stroke-width="0.8" />
<rect x="1188.5" y="349.5" width="17" height="9" fill="#404040" stroke="#000" stroke-width="1.2" />
<rect x="1188.5" y="358.5" width="17" height="19.5" fill="#505050" stroke="#000" stroke-width="1.1" />
<path d="M1218,364 h5 v8 h-5" fill="#383838" stroke="#000" stroke-width="0.8"/><rect x="1227" y="363" width="2" height="7" fill="#000"/>
<path d="M1166,366 l3,1.5 l-1,2.5 z" fill="#fff"/>
<circle cx="1168" cy="368" r="6" fill="none" stroke="#383838" stroke-width="1"/>
<rect x="1211" y="633" width="10" height="4" fill="#202020" stroke="#000" stroke-width="0.6" />
<rect x="1208" y="636" width="22" height="27" rx="2" fill="#181818" stroke="#000"/>
<rect x="1209.5" y="637" width="4" height="25" fill="#1a5a9c" opacity="0.9"/>
<rect x="1205" y="662" width="27" height="18" fill="#202428" stroke="#000" stroke-width="0.8" />
<rect x="1204" y="664" width="3" height="12" fill="#303030" stroke="#000" stroke-width="0.5" />
<path d="M1210,668 h5 M1217,668 h6 M1210,671 h4" stroke="#d0d0d0" stroke-width="1"/>
<path d="M1206,680 H1231 L1228,688 H1209 Z" fill="#2a86c8" stroke="#0d3352" stroke-width="0.8"/>
<path d="M1203,690 h31 v22 l-4,3 h-23 l-4,-3 z" fill="#2f8fd0" stroke="#0d3352" stroke-width="0.9"/>
<circle cx="1218.5" cy="701" r="10.5" fill="url(#ball)" stroke="#0d3352" stroke-width="1"/>
<rect x="212.0" y="700" width="15" height="4.5" fill="#d0d0d0" stroke="#505050" stroke-width="0.9" />
<path d="M214.0,704.5 H225.0 V712 Q241.5,708 247.5,724 Q248.5,742 232.5,743 Q214.0,743 214.0,724 Z" fill="#a4a4a4" stroke="#505050" stroke-width="1"/>
<path d="M224.5,724 Q224.5,721.5 230.5,721.5 Q236.5,721.5 236.5,724 V745 H224.5 Z" fill="#d0d0d0" stroke="#505050" stroke-width="0.9"/>
<rect x="222.5" y="744.5" width="16" height="3.5" fill="#d0d0d0" stroke="#505050" stroke-width="0.8" />
<rect x="258.0" y="700" width="15" height="4.5" fill="#d0d0d0" stroke="#505050" stroke-width="0.9" />
<path d="M260.0,704.5 H271.0 V712 Q287.5,708 293.5,724 Q294.5,742 278.5,743 Q260.0,743 260.0,724 Z" fill="#a4a4a4" stroke="#505050" stroke-width="1"/>
<path d="M270.5,724 Q270.5,721.5 276.5,721.5 Q282.5,721.5 282.5,724 V745 H270.5 Z" fill="#d0d0d0" stroke="#505050" stroke-width="0.9"/>
<rect x="268.5" y="744.5" width="16" height="3.5" fill="#d0d0d0" stroke="#505050" stroke-width="0.8" />
<rect x="391" y="686" width="14" height="4.5" fill="#e8e8e8" stroke="#404040" stroke-width="0.8" />
<rect x="394" y="690" width="8" height="4" fill="#d8d8d8" stroke="#404040" stroke-width="0.7" />
<polygon points="385,727 390,722 393,735 382,735" fill="#e8e8e8" stroke="#404040" stroke-width="0.8"/><polygon points="411,727 406,722 403,735 414,735" fill="#e8e8e8" stroke="#404040" stroke-width="0.8"/>
<circle cx="398" cy="711.5" r="19" fill="#f4f4f4" stroke="#505050" stroke-width="1.2"/>
<circle cx="398" cy="711.5" r="14.5" fill="none" stroke="#c8c8c8" stroke-width="1"/>
<circle cx="397.5" cy="711.5" r="9.5" fill="#fff" stroke="#303030" stroke-width="1.2"/>
<circle cx="397.5" cy="711.5" r="6.8" fill="#606060" stroke="#202020" stroke-width="1"/><circle cx="397.5" cy="711.5" r="4.2" fill="#000"/>
<rect x="717.5" y="702" width="13.5" height="29" rx="4" fill="#f0f0f0" stroke="#606060" stroke-width="0.9"/>
<line x1="718.5" x2="726" y1="706.0" y2="706.0" stroke="#606060" stroke-width="0.8"/>
<line x1="718.5" x2="726" y1="709.6" y2="709.6" stroke="#606060" stroke-width="0.8"/>
<line x1="718.5" x2="726" y1="713.2" y2="713.2" stroke="#606060" stroke-width="0.8"/>
<line x1="718.5" x2="726" y1="716.8" y2="716.8" stroke="#606060" stroke-width="0.8"/>
<line x1="718.5" x2="726" y1="720.4" y2="720.4" stroke="#606060" stroke-width="0.8"/>
<line x1="718.5" x2="726" y1="724.0" y2="724.0" stroke="#606060" stroke-width="0.8"/>
<line x1="718.5" x2="726" y1="727.6" y2="727.6" stroke="#606060" stroke-width="0.8"/>
<rect x="679" y="709" width="40" height="14.5" fill="url(#silv)" stroke="#505050" stroke-width="0.8" />
<rect x="683" y="710.5" width="30.5" height="12" fill="#000" />
<rect x="683" y="714" width="30.5" height="1.1" fill="#fff" />
<rect x="683" y="717.2" width="30.5" height="1.1" fill="#fff" />
<circle cx="697.8" cy="707.3" r="2.3" fill="#202020"/>
<polygon points="688,723.5 693,723.5 690,728 684,728" fill="#505050"/><polygon points="704,723.5 709,723.5 713,728 706,728" fill="#505050"/>
<rect x="677" y="728" width="42" height="10" fill="#8c8c8c" stroke="#202020" stroke-width="1" />
<rect x="675" y="730" width="3" height="6" fill="#d0d0d0" stroke="#202020" stroke-width="0.6" />
</svg>
<div class="l" style="left:50px;top:20px;font-size:18px;font-weight:bold;line-height:22px;width:200px;height:22px;letter-spacing:0.2px">2011-12-11 9:27:48</div>
<div class="l" style="left:614px;top:10px;width:390px;height:40px;font-size:29px;line-height:38px;letter-spacing:2px;color:#00f;font-family:'Liberation Serif', serif">吴江南玻废气处理自控系统</div>
<div class="b " style="left:1412px;top:7px;width:41px;height:20px;font-size:12px;line-height:19px;">登陆</div>
<div class="b " style="left:1413px;top:29px;width:41px;height:20px;font-size:12px;line-height:19px;">退出</div>
<div class="l " style="left:1467px;top:18px;width:70px;height:16px;font-size:12px;line-height:16px;">当前用户：</div>
<div class="l mono" style="left:1534px;top:19px;width:40px;height:16px;font-size:11px;line-height:16px;font-family:'Liberation Serif', serif;letter-spacing:1px">nbad</div>
<div class="b dis" style="left:50px;top:234px;width:43px;height:20px;font-size:12px;line-height:19px;">启动</div>
<div class="b " style="left:50px;top:260px;width:43px;height:20px;font-size:12px;line-height:19px;">停止</div>
<div class="l v ra" style="left:110px;top:217px;width:59px;height:19px;font-size:16px;line-height:19px;padding-right:4px"><span class="r">0.0</span><span class="r hz">Hz</span></div>
<div class="l v ra" style="left:350px;top:219px;width:60px;height:19px;font-size:16px;line-height:19px;padding-right:1px"><span class="r">12.3</span><span class="r hz">Hz</span></div>
<div class="b " style="left:210px;top:230px;width:43px;height:20px;font-size:12px;line-height:19px;">阀开</div>
<div class="b " style="left:210px;top:255px;width:43px;height:20px;font-size:12px;line-height:19px;">阀关</div>
<div class="b " style="left:260px;top:230px;width:43px;height:20px;font-size:12px;line-height:19px;">阀开</div>
<div class="b " style="left:260px;top:255px;width:43px;height:20px;font-size:12px;line-height:19px;">阀关</div>
<div class="b " style="left:420px;top:230px;width:43px;height:20px;font-size:12px;line-height:19px;">启动</div>
<div class="b " style="left:420px;top:256px;width:43px;height:20px;font-size:12px;line-height:19px;">停止</div>
<div class="l c" style="left:110px;top:300px;width:60px;height:16px;font-size:14px;line-height:16px;">排风机1</div>
<div class="l c" style="left:344px;top:300px;width:60px;height:16px;font-size:14px;line-height:16px;">排风机2</div>
<div class="l wb" style="left:197px;top:342px;width:89px;height:19px;font-size:14px;line-height:19px;line-height:17px">变频手动调节</div>
<div class="l v" style="left:286px;top:344px;width:55px;height:18px;font-size:15px;line-height:18px;padding-left:3px">12&nbsp;&nbsp;&nbsp;<span class="hz" style="color:#303030">Hz</span></div>
<div class="b " style="left:220px;top:370px;width:81px;height:20px;font-size:12px;line-height:19px;">变频自动调节</div>
<div class="l w" style="left:610px;top:103px;width:58px;height:19px;font-size:15px;line-height:19px;padding-left:1px">温度/℃</div>
<div class="l vb" style="left:672px;top:103px;width:48px;height:19px;font-size:17px;line-height:19px;padding-left:2px;line-height:18px">14.0</div>
<div class="l w" style="left:766px;top:103px;width:53px;height:19px;font-size:15px;line-height:19px;padding-left:1px">压力/<span class="sf">Pa</span></div>
<div class="l vb" style="left:820px;top:103px;width:60px;height:19px;font-size:17px;line-height:19px;padding-left:1px;line-height:18px">+0.00</div>
<div class="b " style="left:531px;top:227px;width:43px;height:20px;font-size:12px;line-height:19px;">启动</div>
<div class="b " style="left:531px;top:253px;width:43px;height:20px;font-size:12px;line-height:19px;">停止</div>
<div class="l v ra" style="left:589px;top:214px;width:59px;height:19px;font-size:16px;line-height:19px;padding-right:4px"><span class="r">0.0</span><span class="r hz">Hz</span></div>
<div class="b " style="left:690px;top:227px;width:43px;height:20px;font-size:12px;line-height:19px;">阀开</div>
<div class="b " style="left:690px;top:251px;width:43px;height:20px;font-size:12px;line-height:19px;">阀关</div>
<div class="b " style="left:740px;top:227px;width:43px;height:20px;font-size:12px;line-height:19px;">阀开</div>
<div class="b " style="left:740px;top:251px;width:43px;height:20px;font-size:12px;line-height:19px;">阀关</div>
<div class="l c" style="left:586px;top:296px;width:59px;height:16px;font-size:14px;line-height:16px;">引风机1</div>
<div class="l c" style="left:823px;top:294px;width:59px;height:16px;font-size:14px;line-height:16px;">引风机2</div>
<div class="l v ra" style="left:820px;top:215px;width:37px;height:18px;font-size:16px;line-height:18px;padding-right:2px"><span class="r">0.1</span></div>
<div class="l v" style="left:855px;top:212px;width:23px;height:18px;font-size:15px;line-height:18px;padding-left:3px"><span class="r hz">Hz</span></div>
<div class="b " style="left:900px;top:227px;width:43px;height:20px;font-size:12px;line-height:19px;">启动</div>
<div class="b " style="left:900px;top:253px;width:43px;height:20px;font-size:12px;line-height:19px;">停止</div>
<div class="l wb" style="left:662px;top:338px;width:88px;height:19px;font-size:14px;line-height:19px;line-height:17px">变频手动调节</div>
<div class="l v" style="left:750px;top:338px;width:50px;height:19px;font-size:15px;line-height:19px;padding-left:2px">0&nbsp;&nbsp;&nbsp;&nbsp;&nbsp;<span class="hz" style="color:#303030">Hz</span></div>
<div class="b " style="left:702px;top:367px;width:81px;height:20px;font-size:12px;line-height:19px;">变频自动调节</div>
<div class="l wb" style="left:819px;top:180px;width:99px;height:20px;font-size:12px;line-height:20px;line-height:18px;padding-left:5px">入口压力设定/<span class="sf">Pa</span></div>
<div class="l v ra" style="left:921px;top:180px;width:52px;height:19px;font-size:15px;line-height:19px;padding-right:1px">-100.0</div>
<div class="b " style="left:1013px;top:181px;width:81px;height:20px;font-size:12px;line-height:19px;">入口压力<span class="sf">PID</span></div>
<div class="l w" style="left:956px;top:235px;width:80px;height:20px;font-size:12px;line-height:20px;padding-left:2px">风机冷却水泵</div>
<div class="b " style="left:1084px;top:227px;width:43px;height:20px;font-size:12px;line-height:19px;">启动</div>
<div class="b " style="left:1084px;top:253px;width:43px;height:20px;font-size:12px;line-height:19px;">停止</div>
<div class="l wb" style="left:1225px;top:128px;width:100px;height:20px;font-size:12px;line-height:20px;line-height:18px;padding-left:4px">高温限制设定/℃</div>
<div class="l v ra" style="left:1330px;top:128px;width:40px;height:19px;font-size:13px;line-height:19px;padding-right:2px">860</div>
<div class="l wb" style="left:1225px;top:152px;width:100px;height:20px;font-size:12px;line-height:20px;line-height:18px;padding-left:4px">低温限制设定/℃</div>
<div class="l v ra" style="left:1331px;top:152px;width:40px;height:19px;font-size:13px;line-height:19px;padding-right:2px">820</div>
<div class="l wb" style="left:1226px;top:187px;width:100px;height:20px;font-size:12px;line-height:20px;line-height:18px;padding-left:4px">焚烧负压设定/<span class="sf">Pa</span></div>
<div class="l v ra" style="left:1332px;top:187px;width:45px;height:19px;font-size:16px;line-height:19px;padding-right:2px">-30.0</div>
<div class="l w" style="left:1190px;top:222px;width:55px;height:20px;font-size:15px;line-height:20px;">温度/℃</div>
<div class="l vb" style="left:1244px;top:222px;width:56px;height:20px;font-size:17px;line-height:20px;padding-left:1px;line-height:19px">79.9</div>
<div class="l w" style="left:1340px;top:222px;width:53px;height:20px;font-size:15px;line-height:20px;padding-left:1px">压力/<span class="sf">Pa</span></div>
<div class="l vb" style="left:1392px;top:222px;width:48px;height:20px;font-size:17px;line-height:20px;line-height:19px;letter-spacing:-0.4px">-112.6</div>
<div class="b " style="left:1465px;top:266px;width:81px;height:20px;font-size:12px;line-height:19px;">焚烧压力<span class="sf">PID</span></div>
<div class="l cb" style="left:1360px;top:360px;width:60px;height:17px;font-size:14px;line-height:17px;line-height:15px">焚烧炉</div>
<div class="l w" style="left:1100px;top:386px;width:113px;height:21px;font-size:15px;line-height:21px;padding-left:1px">燃气流量/<span class="sf" style="font-size:15px;letter-spacing:1px">m^3/h</span></div>
<div class="l vb" style="left:1134px;top:411px;width:56px;height:20px;font-size:17px;line-height:20px;padding-left:1px;line-height:19px">0.0</div>
<div class="b " style="left:1233px;top:403px;width:42px;height:20px;font-size:12px;line-height:19px;">点火</div>
<div class="b " style="left:1287px;top:403px;width:42px;height:20px;font-size:12px;line-height:19px;">大火</div>
<div class="b g" style="left:1233px;top:427px;width:42px;height:20px;font-size:12px;line-height:19px;">熄火</div>
<div class="b g" style="left:1287px;top:427px;width:42px;height:20px;font-size:12px;line-height:19px;">小火</div>
<div class="b " style="left:1235px;top:458px;width:81px;height:20px;font-size:12px;line-height:19px;">温度自动调节</div>
<div class="l w" style="left:1390px;top:446px;width:56px;height:20px;font-size:15px;line-height:20px;padding-left:1px">温度/℃</div>
<div class="l vb" style="left:1450px;top:446px;width:46px;height:20px;font-size:17px;line-height:20px;padding-left:2px;line-height:19px">18.8</div>
<div class="l cb" style="left:530px;top:380px;width:60px;height:17px;font-size:14px;line-height:17px;line-height:15px">洗涤塔</div>
<div class="l c" style="left:111px;top:480px;width:88px;height:16px;font-size:14px;line-height:16px;letter-spacing:0.3px">超重力脱水器</div>
<div class="b " style="left:55px;top:483px;width:43px;height:20px;font-size:12px;line-height:19px;">启动</div>
<div class="b " style="left:55px;top:509px;width:43px;height:20px;font-size:12px;line-height:19px;">停止</div>
<div class="b " style="left:160px;top:694px;width:43px;height:20px;font-size:12px;line-height:19px;">泵1启</div>
<div class="b " style="left:160px;top:717px;width:43px;height:20px;font-size:12px;line-height:19px;">泵1停</div>
<div class="b " style="left:296px;top:695px;width:43px;height:20px;font-size:12px;line-height:19px;">泵2启</div>
<div class="b " style="left:296px;top:719px;width:43px;height:20px;font-size:12px;line-height:19px;">泵2停</div>
<div class="l c" style="left:302px;top:598px;width:59px;height:16px;font-size:14px;line-height:16px;">冷却塔</div>
<div class="b " style="left:410px;top:617px;width:43px;height:20px;font-size:12px;line-height:19px;">风扇启</div>
<div class="b " style="left:410px;top:641px;width:43px;height:20px;font-size:12px;line-height:19px;">风扇停</div>
<div class="b " style="left:429px;top:691px;width:43px;height:20px;font-size:12px;line-height:19px;">泵启</div>
<div class="b " style="left:429px;top:715px;width:43px;height:20px;font-size:12px;line-height:19px;">泵停</div>
<div class="l w" style="left:683px;top:617px;width:38px;height:14px;font-size:12px;line-height:14px;text-align:center">压滤机</div>
<div class="b " style="left:735px;top:698px;width:43px;height:20px;font-size:12px;line-height:19px;">泵启</div>
<div class="b " style="left:735px;top:722px;width:43px;height:20px;font-size:12px;line-height:19px;">泵停</div>
<div class="l c" style="left:430px;top:780px;width:58px;height:16px;font-size:14px;line-height:16px;letter-spacing:0px;font-size:14px">水处理池</div>
<div class="b " style="left:946px;top:407px;width:81px;height:20px;font-size:12px;line-height:19px;">喷吹参数设定</div>
<div class="b " style="left:850px;top:442px;width:60px;height:20px;font-size:12px;line-height:19px;">喷吹启动</div>
<div class="b g" style="left:912px;top:442px;width:60px;height:20px;font-size:12px;line-height:19px;">喷吹停止</div>
<div class="b " style="left:1000px;top:442px;width:60px;height:20px;font-size:12px;line-height:19px;">喷吹启动</div>
<div class="b g" style="left:1062px;top:442px;width:60px;height:20px;font-size:12px;line-height:19px;">喷吹停止</div>
<div class="b " style="left:900px;top:474px;width:43px;height:20px;font-size:12px;line-height:19px;">阀开</div>
<div class="b " style="left:900px;top:498px;width:43px;height:20px;font-size:12px;line-height:19px;">阀关</div>
<div class="b " style="left:1043px;top:472px;width:43px;height:20px;font-size:12px;line-height:19px;">阀开</div>
<div class="b " style="left:1043px;top:496px;width:43px;height:20px;font-size:12px;line-height:19px;">阀关</div>
<div class="l w" style="left:943px;top:468px;width:52px;height:21px;font-size:15px;line-height:21px;padding-left:1px;line-height:18px">压差/<span class="sf">Pa</span></div>
<div class="l vb" style="left:994px;top:469px;width:48px;height:20px;font-size:15px;line-height:20px;padding-left:1px;line-height:18px">-27.2</div>
<div class="b " style="left:825px;top:721px;width:43px;height:20px;font-size:12px;line-height:19px;">阀开</div>
<div class="b " style="left:825px;top:744px;width:43px;height:20px;font-size:12px;line-height:19px;">阀关</div>
<div class="l cb" style="left:890px;top:740px;width:60px;height:17px;font-size:14px;line-height:17px;line-height:15px">除尘器2</div>
<div class="l cb" style="left:1030px;top:739px;width:60px;height:17px;font-size:14px;line-height:17px;line-height:15px">除尘器1</div>
<div class="b " style="left:1259px;top:530px;width:53px;height:20px;font-size:12px;line-height:19px;">风冷3启</div>
<div class="b " style="left:1314px;top:530px;width:53px;height:20px;font-size:12px;line-height:19px;">风冷3停</div>
<div class="b " style="left:1259px;top:569px;width:53px;height:20px;font-size:12px;line-height:19px;">风冷4启</div>
<div class="b " style="left:1314px;top:569px;width:53px;height:20px;font-size:12px;line-height:19px;">风冷4停</div>
<div class="b " style="left:1258px;top:613px;width:53px;height:20px;font-size:12px;line-height:19px;">风冷1启</div>
<div class="b " style="left:1313px;top:613px;width:53px;height:20px;font-size:12px;line-height:19px;">风冷1停</div>
<div class="b " style="left:1258px;top:653px;width:53px;height:20px;font-size:12px;line-height:19px;">风冷2启</div>
<div class="l cb" style="left:1450px;top:589px;width:59px;height:17px;font-size:14px;line-height:17px;line-height:15px">风冷器</div>
<div class="b " style="left:1170px;top:560px;width:81px;height:20px;font-size:12px;line-height:19px;">野风自动调节</div>
<div class="l w" style="left:1192px;top:589px;width:57px;height:20px;font-size:14px;line-height:20px;text-align:center">开度设定</div>
<div class="l v ra" style="left:1202px;top:612px;width:34px;height:15px;font-size:14px;line-height:15px;padding-right:1px;font-size:15px">0%</div>
<div class="l w" style="left:1190px;top:717px;width:57px;height:24px;font-size:14px;line-height:24px;text-align:center">开度反馈</div>
<div class="l v ra" style="left:1200px;top:744px;width:35px;height:15px;font-size:15px;line-height:15px;padding-right:1px"><span class="r">0%</span></div>
<div style="position:absolute;left:1169px;top:587px;width:15px;height:100px;background:#e8e6e0"></div>
<svg style="position:absolute;left:1169px;top:587px" width="15" height="100"><rect width="15" height="100" fill="url(#sb)"/></svg>
<div class="b " style="left:1169px;top:587px;width:15px;height:15px;font-size:7px;line-height:14px;"><svg width="9" height="6" viewBox="0 0 9 6" style="position:absolute;left:2px;top:3px"><path d="M0.5,5.5 L4.5,0.5 L8.5,5.5 Z" fill="#000"/></svg></div>
<div class="b " style="left:1169px;top:672px;width:15px;height:15px;font-size:7px;line-height:14px;"><svg width="9" height="6" viewBox="0 0 9 6" style="position:absolute;left:2px;top:4px"><path d="M0.5,0.5 L4.5,5.5 L8.5,0.5 Z" fill="#000"/></svg></div>
<div class="b " style="left:1169px;top:658px;width:15px;height:14px;font-size:12px;line-height:13px;"></div>
<div class="l w" style="left:1160px;top:766px;width:51px;height:21px;font-size:15px;line-height:21px;">温度/℃</div>
<div class="l vb" style="left:1212px;top:766px;width:48px;height:21px;font-size:17px;line-height:21px;padding-left:2px;line-height:20px">8.2</div>
<div class="l wb" style="left:1116px;top:792px;width:95px;height:20px;font-size:12px;line-height:20px;line-height:18px;padding-left:1px">除尘温度设定/℃</div>
<div class="l v ra" style="left:1213px;top:792px;width:40px;height:19px;font-size:14px;line-height:19px;padding-right:1px">140.0</div>
<div class="b " style="left:1280px;top:765px;width:81px;height:20px;font-size:12px;line-height:19px;">除尘温度<span class="sf">PID</span></div>
<div class="l w" style="left:1417px;top:767px;width:50px;height:20px;font-size:15px;line-height:20px;">温度/℃</div>
<div class="l vb" style="left:1467px;top:767px;width:50px;height:20px;font-size:17px;line-height:20px;padding-left:1px;line-height:19px">9.0</div>
<div class="pid" style="left:992px;top:69px;width:121px;height:110px"><div class="tb" style="background:#6f8fdc;color:#d8e4f8"><svg width="20" height="18" viewBox="0 0 20 18" style="position:absolute;left:3px;top:3px"><path d="M2,2 H15 L9,9 L3,15 Z" fill="#fff" stroke="#000" stroke-width="1"/><path d="M5,15 Q12,6 17,4 V12 Q12,11 8,16 Z" fill="#b8b8b8" stroke="#202020" stroke-width="1"/><path d="M15,2 h3 v2" stroke="#000" fill="none"/></svg><span style="position:absolute;left:26px;top:0;font-size:13.5px">入口压力PI</span><div class="b" style="right:2px;top:2px;width:17px;height:21px;font-size:13px;line-height:18px;font-family:'Liberation Sans', sans-serif;font-weight:bold;color:#000">✕</div></div><div class="in"></div></div>
<div class="l wb sf" style="left:1002px;top:104px;width:25px;height:20px;font-size:13px;line-height:20px;line-height:19px;padding-left:3px;font-size:13px;letter-spacing:2.5px">P:</div>
<div class="l v ra" style="left:1028px;top:104px;width:40px;height:20px;font-size:13px;line-height:20px;padding-right:1px;line-height:19px;color:#1c1c1c">-40</div>
<div class="l ol" style="left:1068px;top:104px;width:38px;height:20px;font-size:12px;line-height:20px;line-height:18px;letter-spacing:-0.5px">(负数)</div>
<div class="l wb sf" style="left:1002px;top:128px;width:25px;height:20px;font-size:13px;line-height:20px;line-height:19px;padding-left:3px;font-size:13px;letter-spacing:2.5px">I:</div>
<div class="l v ra" style="left:1028px;top:128px;width:60px;height:20px;font-size:13px;line-height:20px;padding-right:7px;line-height:19px;color:#1c1c1c">150.0&nbsp;&nbsp;<span class="mono" style="font-size:13px">s</span></div>
<div class="l wb sf" style="left:1002px;top:152px;width:25px;height:20px;font-size:13px;line-height:20px;line-height:19px;padding-left:3px;font-size:13px;letter-spacing:2.5px">D:</div>
<div class="l v ra" style="left:1028px;top:152px;width:59px;height:20px;font-size:13px;line-height:20px;padding-right:7px;line-height:19px;color:#1c1c1c">0.00&nbsp;&nbsp;<span class="mono" style="font-size:13px">s</span></div>
<div class="pid" style="left:1446px;top:150px;width:121px;height:110px"><div class="tb" style="background:#6f8fdc;color:#d8e4f8"><svg width="20" height="18" viewBox="0 0 20 18" style="position:absolute;left:3px;top:3px"><path d="M2,2 H15 L9,9 L3,15 Z" fill="#fff" stroke="#000" stroke-width="1"/><path d="M5,15 Q12,6 17,4 V12 Q12,11 8,16 Z" fill="#b8b8b8" stroke="#202020" stroke-width="1"/><path d="M15,2 h3 v2" stroke="#000" fill="none"/></svg><span style="position:absolute;left:26px;top:0;font-size:13.5px">焚烧压力PI</span><div class="b" style="right:2px;top:2px;width:17px;height:21px;font-size:13px;line-height:18px;font-family:'Liberation Sans', sans-serif;font-weight:bold;color:#000">✕</div></div><div class="in"></div></div>
<div class="l wb sf" style="left:1456px;top:185px;width:25px;height:20px;font-size:13px;line-height:20px;line-height:19px;padding-left:3px;font-size:13px;letter-spacing:2.5px">P:</div>
<div class="l v ra" style="left:1482px;top:185px;width:40px;height:20px;font-size:13px;line-height:20px;padding-right:1px;line-height:19px;color:#1c1c1c">-40</div>
<div class="l ol" style="left:1522px;top:185px;width:38px;height:20px;font-size:12px;line-height:20px;line-height:18px;letter-spacing:-0.5px">(负数)</div>
<div class="l wb sf" style="left:1456px;top:209px;width:25px;height:20px;font-size:13px;line-height:20px;line-height:19px;padding-left:3px;font-size:13px;letter-spacing:2.5px">I:</div>
<div class="l v ra" style="left:1482px;top:209px;width:60px;height:20px;font-size:13px;line-height:20px;padding-right:7px;line-height:19px;color:#1c1c1c">150.0&nbsp;&nbsp;<span class="mono" style="font-size:13px">s</span></div>
<div class="l wb sf" style="left:1456px;top:233px;width:25px;height:20px;font-size:13px;line-height:20px;line-height:19px;padding-left:3px;font-size:13px;letter-spacing:2.5px">D:</div>
<div class="l v ra" style="left:1482px;top:233px;width:59px;height:20px;font-size:13px;line-height:20px;padding-right:7px;line-height:19px;color:#1c1c1c">0.00&nbsp;&nbsp;<span class="mono" style="font-size:13px">s</span></div>
<div class="pid" style="left:1263px;top:652px;width:121px;height:110px"><div class="tb" style="background:#0a4ae0;color:#fff"><svg width="20" height="18" viewBox="0 0 20 18" style="position:absolute;left:3px;top:3px"><path d="M2,2 H15 L9,9 L3,15 Z" fill="#fff" stroke="#000" stroke-width="1"/><path d="M5,15 Q12,6 17,4 V12 Q12,11 8,16 Z" fill="#b8b8b8" stroke="#202020" stroke-width="1"/><path d="M15,2 h3 v2" stroke="#000" fill="none"/></svg><span style="position:absolute;left:26px;top:0;font-size:13.5px">除尘温度PI</span><div class="b" style="right:2px;top:2px;width:17px;height:21px;font-size:13px;line-height:18px;font-family:'Liberation Sans', sans-serif;font-weight:bold;color:#000">✕</div></div><div class="in"></div></div>
<div class="l wb sf" style="left:1273px;top:687px;width:25px;height:20px;font-size:13px;line-height:20px;line-height:19px;padding-left:3px;font-size:13px;letter-spacing:2.5px">P:</div>
<div class="l v ra" style="left:1299px;top:687px;width:40px;height:20px;font-size:13px;line-height:20px;padding-right:1px;line-height:19px;color:#1c1c1c">-8</div>
<div class="l ol" style="left:1339px;top:687px;width:38px;height:20px;font-size:12px;line-height:20px;line-height:18px;letter-spacing:-0.5px">(负数)</div>
<div class="l wb sf" style="left:1273px;top:711px;width:25px;height:20px;font-size:13px;line-height:20px;line-height:19px;padding-left:3px;font-size:13px;letter-spacing:2.5px">I:</div>
<div class="l v ra" style="left:1299px;top:711px;width:60px;height:20px;font-size:13px;line-height:20px;padding-right:7px;line-height:19px;color:#1c1c1c">200.0&nbsp;&nbsp;<span class="mono" style="font-size:13px">s</span></div>
<div class="l wb sf" style="left:1273px;top:735px;width:25px;height:20px;font-size:13px;line-height:20px;line-height:19px;padding-left:3px;font-size:13px;letter-spacing:2.5px">D:</div>
<div class="l v ra" style="left:1299px;top:735px;width:59px;height:20px;font-size:13px;line-height:20px;padding-right:7px;line-height:19px;color:#1c1c1c">3.00&nbsp;&nbsp;<span class="mono" style="font-size:13px">s</span></div>
<div class="b " style="left:6px;top:853px;width:91px;height:35px;font-size:17.5px;line-height:34px;letter-spacing:0.5px;line-height:33px">主画面</div>
<div class="b " style="left:102px;top:853px;width:91px;height:35px;font-size:17.5px;line-height:34px;line-height:33px">报警数据</div>
<div class="b " style="left:199px;top:853px;width:91px;height:35px;font-size:17.5px;line-height:34px;line-height:33px">历史数据</div>
<div class="l" style="left:1283px;top:849px;width:310px;height:40px;font-size:33px;line-height:40px;color:#ff8040;font-family:'Liberation Serif', serif;letter-spacing:1.7px"><span style="-webkit-text-stroke:0.9px #00ffff">设计者</span>QQ:6304753</div>
<div style="position:absolute;left:575px;top:851px;width:567px;height:38px;box-sizing:border-box;background:#c0c0c0;border:1px solid #000;box-shadow:inset 1px 1px 0 #fff, inset -1px -1px 0 #808080;"></div>
<div style="position:absolute;left:578px;top:855px;width:555px;height:17px;box-sizing:border-box;border:1px solid #000;background:#c0c0c0"></div>
<div class="l" style="left:579px;top:856px;width:24px;height:15px;font-size:12px;line-height:15px;color:#f00;border-right:1px solid #000;background:#d4d0c8;padding-left:1px;"><span style="color:#000;font-size:10px;position:relative;top:-1px">▶</span><span style="color:#000;font-family:'Liberation Mono', monospace;font-size:10px">1</span></div>
<div class="l" style="left:604px;top:856px;width:60px;height:15px;font-size:12px;line-height:15px;color:#f00;border-right:1px solid #000;padding-left:1px;"><span style="font-family:'Liberation Mono', monospace;font-size:10px">11/12/11</span></div>
<div class="l" style="left:664px;top:856px;width:90px;height:15px;font-size:12px;line-height:15px;color:#f00;border-right:1px solid #000;padding-left:1px;">上午 <span style="font-family:'Liberation Mono', monospace;font-size:10px">09:26:50</span></div>
<div class="l" style="left:754px;top:856px;width:30px;height:15px;font-size:12px;line-height:15px;color:#f00;border-right:1px solid #000;padding-left:1px;"><span style="font-family:'Liberation Mono', monospace;font-size:10px">&nbsp;15</span></div>
<div class="l" style="left:784px;top:856px;width:24px;height:15px;font-size:12px;line-height:15px;color:#f00;border-right:1px solid #000;padding-left:1px;"><span style="font-family:'Liberation Mono', monospace;font-size:10px">+</span></div>
<div class="l" style="left:808px;top:856px;width:192px;height:15px;font-size:12px;line-height:15px;color:#f00;border-right:1px solid #000;padding-left:1px;">除尘入口温度过高或者过低</div>
<div class="l" style="left:1000px;top:856px;width:132px;height:15px;font-size:12px;line-height:15px;color:#f00;border-right:1px solid #000;padding-left:1px;">入口温度、风冷、野风</div>
<svg style="position:absolute;left:0;top:0" width="1600" height="900" viewBox="0 0 1600 900">
<defs><mask id="wm" maskUnits="userSpaceOnUse" x="0" y="0" width="1600" height="900"><rect width="1600" height="900" fill="#000"/>
<text transform="translate(443.3,549.9) rotate(-16.65)" x="0" y="29" font-size="80" font-family="'Liberation Serif', serif" letter-spacing="2.8" fill="#fff" stroke="#000" stroke-width="2.2" stroke-linejoin="round">湖北格泰科技专属<tspan dx="2">!</tspan></text></mask></defs>
<rect x="400" y="280" width="760" height="330" fill="#ff8020" mask="url(#wm)"/></svg>
</body></html>
